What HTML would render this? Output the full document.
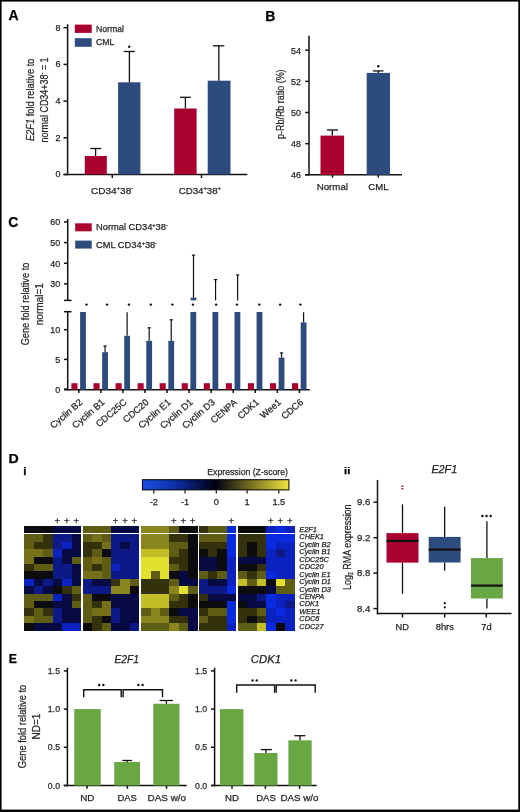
<!DOCTYPE html>
<html><head><meta charset="utf-8"><title>Figure</title>
<style>
html,body{margin:0;padding:0;background:#fff;}
body{width:520px;height:812px;overflow:hidden;}
svg{display:block;font-family:"Liberation Sans", sans-serif;will-change:transform;}

</style></head><body>
<svg width="520" height="812" viewBox="0 0 520 812">
<rect x="0" y="0" width="520" height="812" fill="#fff"/>
<rect x="0.00" y="0.00" width="520.00" height="1.60" fill="#000"/>
<rect x="0.00" y="0.00" width="1.60" height="812.00" fill="#000"/>
<rect x="518.30" y="0.00" width="1.70" height="812.00" fill="#000"/>
<rect x="0.00" y="809.60" width="520.00" height="2.40" fill="#000"/>
<text x="8.60" y="20.40" font-size="14" text-anchor="start" fill="#000" stroke="#000" stroke-width="0.25" font-weight="bold" font-style="normal">A</text>
<text x="265.30" y="20.50" font-size="14" text-anchor="start" fill="#000" stroke="#000" stroke-width="0.25" font-weight="bold" font-style="normal">B</text>
<text x="8.30" y="226.70" font-size="14" text-anchor="start" fill="#000" stroke="#000" stroke-width="0.25" font-weight="bold" font-style="normal">C</text>
<text x="8.50" y="463.00" font-size="13.5" text-anchor="start" fill="#000" stroke="#000" stroke-width="0.25" font-weight="bold" font-style="normal" textLength="10.2" lengthAdjust="spacingAndGlyphs">D</text>
<text x="23.20" y="474.60" font-size="11.5" text-anchor="start" fill="#000" stroke="#000" stroke-width="0.25" font-weight="bold" font-style="normal">i</text>
<text x="344.00" y="474.20" font-size="9.5" text-anchor="start" fill="#000" stroke="#000" stroke-width="0.25" font-weight="bold" font-style="normal" textLength="6.3" lengthAdjust="spacingAndGlyphs">ii</text>
<text x="8.80" y="662.60" font-size="12.3" text-anchor="start" fill="#000" stroke="#000" stroke-width="0.25" font-weight="bold" font-style="normal">E</text>
<line x1="67.60" y1="24.20" x2="67.60" y2="175.25" stroke="#111111" stroke-width="1.5"/>
<line x1="63.50" y1="174.50" x2="67.60" y2="174.50" stroke="#111111" stroke-width="1.5"/>
<text x="60.50" y="177.40" font-size="9" text-anchor="end" fill="#262626" stroke="#262626" stroke-width="0.25" font-weight="normal" font-style="normal" textLength="5.01" lengthAdjust="spacingAndGlyphs">0</text>
<line x1="63.50" y1="137.80" x2="67.60" y2="137.80" stroke="#111111" stroke-width="1.5"/>
<text x="60.50" y="140.70" font-size="9" text-anchor="end" fill="#262626" stroke="#262626" stroke-width="0.25" font-weight="normal" font-style="normal" textLength="5.01" lengthAdjust="spacingAndGlyphs">2</text>
<line x1="63.50" y1="101.10" x2="67.60" y2="101.10" stroke="#111111" stroke-width="1.5"/>
<text x="60.50" y="104.00" font-size="9" text-anchor="end" fill="#262626" stroke="#262626" stroke-width="0.25" font-weight="normal" font-style="normal" textLength="5.01" lengthAdjust="spacingAndGlyphs">4</text>
<line x1="63.50" y1="64.40" x2="67.60" y2="64.40" stroke="#111111" stroke-width="1.5"/>
<text x="60.50" y="67.30" font-size="9" text-anchor="end" fill="#262626" stroke="#262626" stroke-width="0.25" font-weight="normal" font-style="normal" textLength="5.01" lengthAdjust="spacingAndGlyphs">6</text>
<line x1="63.50" y1="27.70" x2="67.60" y2="27.70" stroke="#111111" stroke-width="1.5"/>
<text x="60.50" y="30.60" font-size="9" text-anchor="end" fill="#262626" stroke="#262626" stroke-width="0.25" font-weight="normal" font-style="normal" textLength="5.01" lengthAdjust="spacingAndGlyphs">8</text>
<line x1="63.50" y1="174.50" x2="247.40" y2="174.50" stroke="#111111" stroke-width="1.5"/>
<line x1="112.30" y1="174.50" x2="112.30" y2="178.00" stroke="#111111" stroke-width="1.5"/>
<line x1="201.50" y1="174.50" x2="201.50" y2="178.00" stroke="#111111" stroke-width="1.5"/>
<rect x="84.80" y="156.00" width="22.00" height="18.50" fill="#aa0030"/>
<line x1="95.60" y1="156.00" x2="95.60" y2="148.50" stroke="#111111" stroke-width="1.3"/>
<line x1="90.40" y1="148.50" x2="101.30" y2="148.50" stroke="#111111" stroke-width="1.3"/>
<rect x="118.10" y="82.30" width="22.30" height="92.20" fill="#2d4b7c"/>
<line x1="129.40" y1="82.30" x2="129.40" y2="51.50" stroke="#111111" stroke-width="1.3"/>
<line x1="123.70" y1="51.50" x2="134.80" y2="51.50" stroke="#111111" stroke-width="1.3"/>
<rect x="174.20" y="108.50" width="22.40" height="66.00" fill="#aa0030"/>
<line x1="185.40" y1="108.50" x2="185.40" y2="97.30" stroke="#111111" stroke-width="1.3"/>
<line x1="180.00" y1="97.30" x2="190.80" y2="97.30" stroke="#111111" stroke-width="1.3"/>
<rect x="207.70" y="80.70" width="22.80" height="93.80" fill="#2d4b7c"/>
<line x1="218.80" y1="80.70" x2="218.80" y2="45.80" stroke="#111111" stroke-width="1.3"/>
<line x1="213.00" y1="45.80" x2="224.30" y2="45.80" stroke="#111111" stroke-width="1.3"/>
<circle cx="129.20" cy="46.70" r="1.2" fill="#111111"/>
<rect x="74.80" y="24.60" width="16.90" height="8.30" fill="#aa0030"/>
<rect x="74.80" y="38.20" width="16.90" height="8.60" fill="#2d4b7c"/>
<text x="96.00" y="31.90" font-size="9.3" text-anchor="start" fill="#262626" stroke="#262626" stroke-width="0.25" font-weight="normal" font-style="normal" textLength="28" lengthAdjust="spacingAndGlyphs">Normal</text>
<text x="96.00" y="45.10" font-size="9.3" text-anchor="start" fill="#262626" stroke="#262626" stroke-width="0.25" font-weight="normal" font-style="normal" textLength="18.4" lengthAdjust="spacingAndGlyphs">CML</text>
<text x="91.00" y="193.80" font-size="9.5" fill="#262626" stroke="#262626" stroke-width="0.25" textLength="42.3" lengthAdjust="spacingAndGlyphs">CD34<tspan font-size="5.70" dy="-3.4">+</tspan><tspan dy="3.4">38</tspan><tspan font-size="5.70" dy="-3.4">-</tspan></text>
<text x="178.70" y="193.70" font-size="9.5" fill="#262626" stroke="#262626" stroke-width="0.25" textLength="42.3" lengthAdjust="spacingAndGlyphs">CD34<tspan font-size="5.70" dy="-3.4">+</tspan><tspan dy="3.4">38</tspan><tspan font-size="5.70" dy="-3.4">+</tspan></text>
<g transform="translate(34.3,99.8) rotate(-90)"><text x="0" y="0" font-size="11.8" fill="#262626" stroke="#262626" stroke-width="0.25" text-anchor="middle" textLength="82.6" lengthAdjust="spacingAndGlyphs"><tspan font-style="italic">E2F1</tspan> fold relative to</text></g>
<g transform="translate(48.0,99.9) rotate(-90)"><text x="0" y="0" font-size="11.8" fill="#262626" stroke="#262626" stroke-width="0.25" text-anchor="middle" textLength="85" lengthAdjust="spacingAndGlyphs">normal CD34+38<tspan font-size="7.5" dy="-4.5">-</tspan><tspan dy="4.5"> = 1</tspan></text></g>
<line x1="309.00" y1="35.80" x2="309.00" y2="175.55" stroke="#111111" stroke-width="1.5"/>
<line x1="305.20" y1="174.80" x2="309.00" y2="174.80" stroke="#111111" stroke-width="1.5"/>
<text x="301.00" y="178.20" font-size="9.6" text-anchor="end" fill="#262626" stroke="#262626" stroke-width="0.25" font-weight="normal" font-style="normal" textLength="9.93" lengthAdjust="spacingAndGlyphs">46</text>
<line x1="305.20" y1="143.65" x2="309.00" y2="143.65" stroke="#111111" stroke-width="1.5"/>
<text x="301.00" y="147.05" font-size="9.6" text-anchor="end" fill="#262626" stroke="#262626" stroke-width="0.25" font-weight="normal" font-style="normal" textLength="9.93" lengthAdjust="spacingAndGlyphs">48</text>
<line x1="305.20" y1="112.50" x2="309.00" y2="112.50" stroke="#111111" stroke-width="1.5"/>
<text x="301.00" y="115.90" font-size="9.6" text-anchor="end" fill="#262626" stroke="#262626" stroke-width="0.25" font-weight="normal" font-style="normal" textLength="9.93" lengthAdjust="spacingAndGlyphs">50</text>
<line x1="305.20" y1="81.35" x2="309.00" y2="81.35" stroke="#111111" stroke-width="1.5"/>
<text x="301.00" y="84.75" font-size="9.6" text-anchor="end" fill="#262626" stroke="#262626" stroke-width="0.25" font-weight="normal" font-style="normal" textLength="9.93" lengthAdjust="spacingAndGlyphs">52</text>
<line x1="305.20" y1="50.20" x2="309.00" y2="50.20" stroke="#111111" stroke-width="1.5"/>
<text x="301.00" y="53.60" font-size="9.6" text-anchor="end" fill="#262626" stroke="#262626" stroke-width="0.25" font-weight="normal" font-style="normal" textLength="9.93" lengthAdjust="spacingAndGlyphs">54</text>
<line x1="305.20" y1="174.80" x2="402.00" y2="174.80" stroke="#111111" stroke-width="1.5"/>
<line x1="332.50" y1="174.80" x2="332.50" y2="177.60" stroke="#111111" stroke-width="1.5"/>
<line x1="378.30" y1="174.80" x2="378.30" y2="177.60" stroke="#111111" stroke-width="1.5"/>
<rect x="320.50" y="135.60" width="23.60" height="39.20" fill="#aa0030"/>
<line x1="332.30" y1="135.60" x2="332.30" y2="130.00" stroke="#111111" stroke-width="1.3"/>
<line x1="327.00" y1="130.00" x2="338.00" y2="130.00" stroke="#111111" stroke-width="1.3"/>
<rect x="366.70" y="72.90" width="23.30" height="101.90" fill="#2d4b7c"/>
<line x1="378.30" y1="72.90" x2="378.30" y2="70.90" stroke="#111111" stroke-width="1.3"/>
<line x1="372.90" y1="70.90" x2="383.40" y2="70.90" stroke="#111111" stroke-width="1.3"/>
<circle cx="378.30" cy="66.20" r="1.2" fill="#111111"/>
<text x="316.70" y="189.60" font-size="9.3" text-anchor="start" fill="#262626" stroke="#262626" stroke-width="0.25" font-weight="normal" font-style="normal" textLength="31.3" lengthAdjust="spacingAndGlyphs">Normal</text>
<text x="368.30" y="189.60" font-size="9.3" text-anchor="start" fill="#262626" stroke="#262626" stroke-width="0.25" font-weight="normal" font-style="normal" textLength="20.2" lengthAdjust="spacingAndGlyphs">CML</text>
<g transform="translate(284,104.2) rotate(-90)"><text x="0" y="0" font-size="11.8" fill="#262626" stroke="#262626" stroke-width="0.25" text-anchor="middle" textLength="69.6" lengthAdjust="spacingAndGlyphs">p-Rb/Rb ratio (%)</text></g>
<line x1="67.70" y1="219.00" x2="67.70" y2="300.40" stroke="#111111" stroke-width="1.5"/>
<line x1="64.00" y1="300.40" x2="71.50" y2="300.40" stroke="#111111" stroke-width="1.5"/>
<line x1="67.70" y1="311.70" x2="67.70" y2="390.40" stroke="#111111" stroke-width="1.5"/>
<line x1="64.00" y1="311.70" x2="71.50" y2="311.70" stroke="#111111" stroke-width="1.5"/>
<line x1="64.00" y1="221.90" x2="67.70" y2="221.90" stroke="#111111" stroke-width="1.5"/>
<text x="60.20" y="225.30" font-size="9.6" text-anchor="end" fill="#262626" stroke="#262626" stroke-width="0.25" font-weight="normal" font-style="normal" textLength="9.93" lengthAdjust="spacingAndGlyphs">60</text>
<line x1="64.00" y1="242.60" x2="67.70" y2="242.60" stroke="#111111" stroke-width="1.5"/>
<text x="60.20" y="246.00" font-size="9.6" text-anchor="end" fill="#262626" stroke="#262626" stroke-width="0.25" font-weight="normal" font-style="normal" textLength="9.93" lengthAdjust="spacingAndGlyphs">50</text>
<line x1="64.00" y1="263.30" x2="67.70" y2="263.30" stroke="#111111" stroke-width="1.5"/>
<text x="60.20" y="266.70" font-size="9.6" text-anchor="end" fill="#262626" stroke="#262626" stroke-width="0.25" font-weight="normal" font-style="normal" textLength="9.93" lengthAdjust="spacingAndGlyphs">40</text>
<line x1="64.00" y1="283.90" x2="67.70" y2="283.90" stroke="#111111" stroke-width="1.5"/>
<text x="60.20" y="287.30" font-size="9.6" text-anchor="end" fill="#262626" stroke="#262626" stroke-width="0.25" font-weight="normal" font-style="normal" textLength="9.93" lengthAdjust="spacingAndGlyphs">30</text>
<line x1="64.00" y1="329.70" x2="67.70" y2="329.70" stroke="#111111" stroke-width="1.5"/>
<text x="60.20" y="333.10" font-size="9.6" text-anchor="end" fill="#262626" stroke="#262626" stroke-width="0.25" font-weight="normal" font-style="normal" textLength="9.93" lengthAdjust="spacingAndGlyphs">10</text>
<line x1="64.00" y1="359.40" x2="67.70" y2="359.40" stroke="#111111" stroke-width="1.5"/>
<text x="60.20" y="362.80" font-size="9.6" text-anchor="end" fill="#262626" stroke="#262626" stroke-width="0.25" font-weight="normal" font-style="normal" textLength="4.97" lengthAdjust="spacingAndGlyphs">5</text>
<line x1="64.00" y1="389.10" x2="67.70" y2="389.10" stroke="#111111" stroke-width="1.5"/>
<text x="60.20" y="392.50" font-size="9.6" text-anchor="end" fill="#262626" stroke="#262626" stroke-width="0.25" font-weight="normal" font-style="normal" textLength="4.97" lengthAdjust="spacingAndGlyphs">0</text>
<line x1="64.00" y1="389.70" x2="309.80" y2="389.70" stroke="#111111" stroke-width="1.5"/>
<rect x="71.40" y="383.20" width="6.10" height="6.50" fill="#aa0030"/>
<rect x="80.10" y="312.00" width="5.80" height="77.70" fill="#2d4b7c"/>
<line x1="78.80" y1="389.70" x2="78.80" y2="393.00" stroke="#111111" stroke-width="1.5"/>
<circle cx="86.50" cy="304.60" r="1.2" fill="#111111"/>
<g transform="translate(83.20,403.2) rotate(-41)"><text x="0" y="0" font-size="9.3" fill="#262626" stroke="#262626" stroke-width="0.25" text-anchor="end">Cyclin B2</text></g>
<rect x="93.46" y="383.20" width="6.10" height="6.50" fill="#aa0030"/>
<rect x="102.16" y="352.20" width="5.80" height="37.50" fill="#2d4b7c"/>
<line x1="105.06" y1="352.20" x2="105.06" y2="346.00" stroke="#111111" stroke-width="1.2"/>
<line x1="103.46" y1="346.00" x2="106.66" y2="346.00" stroke="#111111" stroke-width="1.2"/>
<line x1="100.86" y1="389.70" x2="100.86" y2="393.00" stroke="#111111" stroke-width="1.5"/>
<circle cx="107.00" cy="304.60" r="1.2" fill="#111111"/>
<g transform="translate(105.26,403.2) rotate(-41)"><text x="0" y="0" font-size="9.3" fill="#262626" stroke="#262626" stroke-width="0.25" text-anchor="end">Cyclin B1</text></g>
<rect x="115.52" y="383.20" width="6.10" height="6.50" fill="#aa0030"/>
<rect x="124.22" y="335.80" width="5.80" height="53.90" fill="#2d4b7c"/>
<line x1="127.12" y1="335.80" x2="127.12" y2="312.20" stroke="#111111" stroke-width="1.2"/>
<line x1="122.92" y1="389.70" x2="122.92" y2="393.00" stroke="#111111" stroke-width="1.5"/>
<circle cx="129.00" cy="304.60" r="1.2" fill="#111111"/>
<g transform="translate(127.32,403.2) rotate(-41)"><text x="0" y="0" font-size="9.3" fill="#262626" stroke="#262626" stroke-width="0.25" text-anchor="end">CDC25C</text></g>
<rect x="137.58" y="383.20" width="6.10" height="6.50" fill="#aa0030"/>
<rect x="146.28" y="340.80" width="5.80" height="48.90" fill="#2d4b7c"/>
<line x1="149.18" y1="340.80" x2="149.18" y2="327.80" stroke="#111111" stroke-width="1.2"/>
<line x1="147.58" y1="327.80" x2="150.78" y2="327.80" stroke="#111111" stroke-width="1.2"/>
<line x1="144.98" y1="389.70" x2="144.98" y2="393.00" stroke="#111111" stroke-width="1.5"/>
<circle cx="150.90" cy="304.60" r="1.2" fill="#111111"/>
<g transform="translate(149.38,403.2) rotate(-41)"><text x="0" y="0" font-size="9.3" fill="#262626" stroke="#262626" stroke-width="0.25" text-anchor="end">CDC20</text></g>
<rect x="159.64" y="383.20" width="6.10" height="6.50" fill="#aa0030"/>
<rect x="168.34" y="340.80" width="5.80" height="48.90" fill="#2d4b7c"/>
<line x1="171.24" y1="340.80" x2="171.24" y2="319.80" stroke="#111111" stroke-width="1.2"/>
<line x1="169.64" y1="319.80" x2="172.84" y2="319.80" stroke="#111111" stroke-width="1.2"/>
<line x1="167.04" y1="389.70" x2="167.04" y2="393.00" stroke="#111111" stroke-width="1.5"/>
<circle cx="172.40" cy="304.60" r="1.2" fill="#111111"/>
<g transform="translate(171.44,403.2) rotate(-41)"><text x="0" y="0" font-size="9.3" fill="#262626" stroke="#262626" stroke-width="0.25" text-anchor="end">Cyclin E1</text></g>
<rect x="181.70" y="383.20" width="6.10" height="6.50" fill="#aa0030"/>
<rect x="190.40" y="312.00" width="5.80" height="77.70" fill="#2d4b7c"/>
<line x1="189.10" y1="389.70" x2="189.10" y2="393.00" stroke="#111111" stroke-width="1.5"/>
<circle cx="193.00" cy="304.60" r="1.2" fill="#111111"/>
<g transform="translate(193.50,403.2) rotate(-41)"><text x="0" y="0" font-size="9.3" fill="#262626" stroke="#262626" stroke-width="0.25" text-anchor="end">Cyclin D1</text></g>
<rect x="203.76" y="383.20" width="6.10" height="6.50" fill="#aa0030"/>
<rect x="212.46" y="312.00" width="5.80" height="77.70" fill="#2d4b7c"/>
<line x1="211.16" y1="389.70" x2="211.16" y2="393.00" stroke="#111111" stroke-width="1.5"/>
<circle cx="216.10" cy="304.60" r="1.2" fill="#111111"/>
<g transform="translate(215.56,403.2) rotate(-41)"><text x="0" y="0" font-size="9.3" fill="#262626" stroke="#262626" stroke-width="0.25" text-anchor="end">Cyclin D3</text></g>
<rect x="225.82" y="383.20" width="6.10" height="6.50" fill="#aa0030"/>
<rect x="234.52" y="312.00" width="5.80" height="77.70" fill="#2d4b7c"/>
<line x1="233.22" y1="389.70" x2="233.22" y2="393.00" stroke="#111111" stroke-width="1.5"/>
<circle cx="236.90" cy="304.60" r="1.2" fill="#111111"/>
<g transform="translate(237.62,403.2) rotate(-41)"><text x="0" y="0" font-size="9.3" fill="#262626" stroke="#262626" stroke-width="0.25" text-anchor="end">CENPA</text></g>
<rect x="247.88" y="383.20" width="6.10" height="6.50" fill="#aa0030"/>
<rect x="256.58" y="312.00" width="5.80" height="77.70" fill="#2d4b7c"/>
<line x1="255.28" y1="389.70" x2="255.28" y2="393.00" stroke="#111111" stroke-width="1.5"/>
<circle cx="259.30" cy="304.60" r="1.2" fill="#111111"/>
<g transform="translate(259.68,403.2) rotate(-41)"><text x="0" y="0" font-size="9.3" fill="#262626" stroke="#262626" stroke-width="0.25" text-anchor="end">CDK1</text></g>
<rect x="269.94" y="383.20" width="6.10" height="6.50" fill="#aa0030"/>
<rect x="278.64" y="357.60" width="5.80" height="32.10" fill="#2d4b7c"/>
<line x1="281.54" y1="357.60" x2="281.54" y2="352.90" stroke="#111111" stroke-width="1.2"/>
<line x1="279.94" y1="352.90" x2="283.14" y2="352.90" stroke="#111111" stroke-width="1.2"/>
<line x1="277.34" y1="389.70" x2="277.34" y2="393.00" stroke="#111111" stroke-width="1.5"/>
<circle cx="280.10" cy="304.60" r="1.2" fill="#111111"/>
<g transform="translate(281.74,403.2) rotate(-41)"><text x="0" y="0" font-size="9.3" fill="#262626" stroke="#262626" stroke-width="0.25" text-anchor="end">Wee1</text></g>
<rect x="292.00" y="383.20" width="6.10" height="6.50" fill="#aa0030"/>
<rect x="300.70" y="322.40" width="5.80" height="67.30" fill="#2d4b7c"/>
<line x1="303.60" y1="322.40" x2="303.60" y2="312.20" stroke="#111111" stroke-width="1.2"/>
<line x1="299.40" y1="389.70" x2="299.40" y2="393.00" stroke="#111111" stroke-width="1.5"/>
<circle cx="300.40" cy="304.60" r="1.2" fill="#111111"/>
<g transform="translate(303.80,403.2) rotate(-41)"><text x="0" y="0" font-size="9.3" fill="#262626" stroke="#262626" stroke-width="0.25" text-anchor="end">CDC6</text></g>
<rect x="190.60" y="297.60" width="5.80" height="2.80" fill="#2d4b7c"/>
<line x1="193.50" y1="297.60" x2="193.50" y2="255.20" stroke="#111111" stroke-width="1.2"/>
<line x1="191.90" y1="255.20" x2="195.10" y2="255.20" stroke="#111111" stroke-width="1.2"/>
<line x1="215.56" y1="300.40" x2="215.56" y2="279.60" stroke="#111111" stroke-width="1.2"/>
<line x1="213.96" y1="279.60" x2="217.16" y2="279.60" stroke="#111111" stroke-width="1.2"/>
<line x1="237.62" y1="300.40" x2="237.62" y2="275.00" stroke="#111111" stroke-width="1.2"/>
<line x1="236.02" y1="275.00" x2="239.22" y2="275.00" stroke="#111111" stroke-width="1.2"/>
<rect x="75.20" y="223.30" width="16.50" height="8.00" fill="#aa0030"/>
<rect x="75.20" y="240.60" width="16.50" height="8.00" fill="#2d4b7c"/>
<text x="96" y="230.2" font-size="9.3" fill="#262626" stroke="#262626" stroke-width="0.25">Normal CD34<tspan font-size="5.6" dy="-3.4">+</tspan><tspan dy="3.4">38</tspan><tspan font-size="5.6" dy="-3.4">-</tspan></text>
<text x="96" y="247.9" font-size="9.3" fill="#262626" stroke="#262626" stroke-width="0.25">CML CD34<tspan font-size="5.6" dy="-3.4">+</tspan><tspan dy="3.4">38</tspan><tspan font-size="5.6" dy="-3.4">-</tspan></text>
<g transform="translate(29,304) rotate(-90)"><text x="0" y="0" font-size="11.8" fill="#262626" stroke="#262626" stroke-width="0.25" text-anchor="middle" textLength="82.7" lengthAdjust="spacingAndGlyphs">Gene fold relative to</text></g>
<g transform="translate(43.2,304.2) rotate(-90)"><text x="0" y="0" font-size="11.8" fill="#262626" stroke="#262626" stroke-width="0.25" text-anchor="middle" textLength="42" lengthAdjust="spacingAndGlyphs">normal=1</text></g>
<defs><linearGradient id="cb" x1="0" x2="1" y1="0" y2="0"><stop offset="0" stop-color="#1a50e6"/><stop offset="0.25" stop-color="#0c2a9a"/><stop offset="0.5" stop-color="#000010"/><stop offset="0.75" stop-color="#7a7420"/><stop offset="1" stop-color="#f0e640"/></linearGradient></defs>
<rect x="142.4" y="479.7" width="146.5" height="10.2" fill="url(#cb)" stroke="#000" stroke-width="1"/>
<line x1="153.80" y1="490.20" x2="153.80" y2="493.50" stroke="#111111" stroke-width="1.2"/>
<text x="153.80" y="505.40" font-size="9.2" text-anchor="middle" fill="#262626" stroke="#262626" stroke-width="0.25" font-weight="normal" font-style="normal" textLength="8.18" lengthAdjust="spacingAndGlyphs">-2</text>
<line x1="185.00" y1="490.20" x2="185.00" y2="493.50" stroke="#111111" stroke-width="1.2"/>
<text x="185.00" y="505.40" font-size="9.2" text-anchor="middle" fill="#262626" stroke="#262626" stroke-width="0.25" font-weight="normal" font-style="normal" textLength="8.18" lengthAdjust="spacingAndGlyphs">-1</text>
<line x1="216.30" y1="490.20" x2="216.30" y2="493.50" stroke="#111111" stroke-width="1.2"/>
<text x="216.30" y="505.40" font-size="9.2" text-anchor="middle" fill="#262626" stroke="#262626" stroke-width="0.25" font-weight="normal" font-style="normal" textLength="5.12" lengthAdjust="spacingAndGlyphs">0</text>
<line x1="247.10" y1="490.20" x2="247.10" y2="493.50" stroke="#111111" stroke-width="1.2"/>
<text x="247.10" y="505.40" font-size="9.2" text-anchor="middle" fill="#262626" stroke="#262626" stroke-width="0.25" font-weight="normal" font-style="normal" textLength="5.12" lengthAdjust="spacingAndGlyphs">1</text>
<line x1="278.80" y1="490.20" x2="278.80" y2="493.50" stroke="#111111" stroke-width="1.2"/>
<text x="278.80" y="505.40" font-size="9.2" text-anchor="middle" fill="#262626" stroke="#262626" stroke-width="0.25" font-weight="normal" font-style="normal" textLength="12.79" lengthAdjust="spacingAndGlyphs">1.5</text>
<text x="207.30" y="475.00" font-size="9.3" text-anchor="start" fill="#262626" stroke="#262626" stroke-width="0.25" font-weight="normal" font-style="normal" textLength="80.7" lengthAdjust="spacingAndGlyphs">Expression (Z-score)</text>
<rect x="24.00" y="525.80" width="9.80" height="7.10" fill="rgb(12, 12, 14)" shape-rendering="crispEdges"/>
<rect x="33.50" y="525.80" width="9.80" height="7.10" fill="rgb(12, 12, 14)" shape-rendering="crispEdges"/>
<rect x="43.00" y="525.80" width="9.80" height="7.10" fill="rgb(12, 12, 14)" shape-rendering="crispEdges"/>
<rect x="52.50" y="525.80" width="9.80" height="7.10" fill="rgb(8, 10, 68)" shape-rendering="crispEdges"/>
<rect x="62.00" y="525.80" width="9.80" height="7.10" fill="rgb(8, 10, 68)" shape-rendering="crispEdges"/>
<rect x="71.50" y="525.80" width="9.80" height="7.10" fill="rgb(8, 10, 68)" shape-rendering="crispEdges"/>
<rect x="24.00" y="534.40" width="9.80" height="7.69" fill="rgb(95, 92, 20)" shape-rendering="crispEdges"/>
<rect x="33.50" y="534.40" width="9.80" height="7.69" fill="rgb(95, 92, 20)" shape-rendering="crispEdges"/>
<rect x="43.00" y="534.40" width="9.80" height="7.69" fill="rgb(52, 50, 12)" shape-rendering="crispEdges"/>
<rect x="52.50" y="534.40" width="9.80" height="7.69" fill="rgb(12, 25, 135)" shape-rendering="crispEdges"/>
<rect x="62.00" y="534.40" width="9.80" height="7.69" fill="rgb(12, 25, 135)" shape-rendering="crispEdges"/>
<rect x="71.50" y="534.40" width="9.80" height="7.69" fill="rgb(8, 10, 68)" shape-rendering="crispEdges"/>
<rect x="24.00" y="541.79" width="9.80" height="7.69" fill="rgb(95, 92, 20)" shape-rendering="crispEdges"/>
<rect x="33.50" y="541.79" width="9.80" height="7.69" fill="rgb(52, 50, 12)" shape-rendering="crispEdges"/>
<rect x="43.00" y="541.79" width="9.80" height="7.69" fill="rgb(52, 50, 12)" shape-rendering="crispEdges"/>
<rect x="52.50" y="541.79" width="9.80" height="7.69" fill="rgb(12, 25, 135)" shape-rendering="crispEdges"/>
<rect x="62.00" y="541.79" width="9.80" height="7.69" fill="rgb(12, 34, 192)" shape-rendering="crispEdges"/>
<rect x="71.50" y="541.79" width="9.80" height="7.69" fill="rgb(8, 10, 68)" shape-rendering="crispEdges"/>
<rect x="24.00" y="549.18" width="9.80" height="7.69" fill="rgb(118, 113, 24)" shape-rendering="crispEdges"/>
<rect x="33.50" y="549.18" width="9.80" height="7.69" fill="rgb(118, 113, 24)" shape-rendering="crispEdges"/>
<rect x="43.00" y="549.18" width="9.80" height="7.69" fill="rgb(95, 92, 20)" shape-rendering="crispEdges"/>
<rect x="52.50" y="549.18" width="9.80" height="7.69" fill="rgb(12, 34, 192)" shape-rendering="crispEdges"/>
<rect x="62.00" y="549.18" width="9.80" height="7.69" fill="rgb(8, 10, 68)" shape-rendering="crispEdges"/>
<rect x="71.50" y="549.18" width="9.80" height="7.69" fill="rgb(8, 10, 68)" shape-rendering="crispEdges"/>
<rect x="24.00" y="556.58" width="9.80" height="7.69" fill="rgb(118, 113, 24)" shape-rendering="crispEdges"/>
<rect x="33.50" y="556.58" width="9.80" height="7.69" fill="rgb(12, 12, 14)" shape-rendering="crispEdges"/>
<rect x="43.00" y="556.58" width="9.80" height="7.69" fill="rgb(12, 12, 14)" shape-rendering="crispEdges"/>
<rect x="52.50" y="556.58" width="9.80" height="7.69" fill="rgb(12, 25, 135)" shape-rendering="crispEdges"/>
<rect x="62.00" y="556.58" width="9.80" height="7.69" fill="rgb(8, 10, 68)" shape-rendering="crispEdges"/>
<rect x="71.50" y="556.58" width="9.80" height="7.69" fill="rgb(95, 92, 20)" shape-rendering="crispEdges"/>
<rect x="24.00" y="563.97" width="9.80" height="7.69" fill="rgb(52, 50, 12)" shape-rendering="crispEdges"/>
<rect x="33.50" y="563.97" width="9.80" height="7.69" fill="rgb(95, 92, 20)" shape-rendering="crispEdges"/>
<rect x="43.00" y="563.97" width="9.80" height="7.69" fill="rgb(95, 92, 20)" shape-rendering="crispEdges"/>
<rect x="52.50" y="563.97" width="9.80" height="7.69" fill="rgb(12, 25, 135)" shape-rendering="crispEdges"/>
<rect x="62.00" y="563.97" width="9.80" height="7.69" fill="rgb(12, 25, 135)" shape-rendering="crispEdges"/>
<rect x="71.50" y="563.97" width="9.80" height="7.69" fill="rgb(8, 10, 68)" shape-rendering="crispEdges"/>
<rect x="24.00" y="571.36" width="9.80" height="7.69" fill="rgb(12, 12, 14)" shape-rendering="crispEdges"/>
<rect x="33.50" y="571.36" width="9.80" height="7.69" fill="rgb(12, 12, 14)" shape-rendering="crispEdges"/>
<rect x="43.00" y="571.36" width="9.80" height="7.69" fill="rgb(12, 12, 14)" shape-rendering="crispEdges"/>
<rect x="52.50" y="571.36" width="9.80" height="7.69" fill="rgb(12, 25, 135)" shape-rendering="crispEdges"/>
<rect x="62.00" y="571.36" width="9.80" height="7.69" fill="rgb(12, 25, 135)" shape-rendering="crispEdges"/>
<rect x="71.50" y="571.36" width="9.80" height="7.69" fill="rgb(8, 10, 68)" shape-rendering="crispEdges"/>
<rect x="24.00" y="578.75" width="9.80" height="7.69" fill="rgb(12, 34, 192)" shape-rendering="crispEdges"/>
<rect x="33.50" y="578.75" width="9.80" height="7.69" fill="rgb(8, 10, 68)" shape-rendering="crispEdges"/>
<rect x="43.00" y="578.75" width="9.80" height="7.69" fill="rgb(12, 25, 135)" shape-rendering="crispEdges"/>
<rect x="52.50" y="578.75" width="9.80" height="7.69" fill="rgb(8, 10, 68)" shape-rendering="crispEdges"/>
<rect x="62.00" y="578.75" width="9.80" height="7.69" fill="rgb(12, 34, 192)" shape-rendering="crispEdges"/>
<rect x="71.50" y="578.75" width="9.80" height="7.69" fill="rgb(8, 10, 68)" shape-rendering="crispEdges"/>
<rect x="24.00" y="586.15" width="9.80" height="7.69" fill="rgb(8, 10, 68)" shape-rendering="crispEdges"/>
<rect x="33.50" y="586.15" width="9.80" height="7.69" fill="rgb(12, 25, 135)" shape-rendering="crispEdges"/>
<rect x="43.00" y="586.15" width="9.80" height="7.69" fill="rgb(8, 10, 68)" shape-rendering="crispEdges"/>
<rect x="52.50" y="586.15" width="9.80" height="7.69" fill="rgb(12, 12, 14)" shape-rendering="crispEdges"/>
<rect x="62.00" y="586.15" width="9.80" height="7.69" fill="rgb(52, 50, 12)" shape-rendering="crispEdges"/>
<rect x="71.50" y="586.15" width="9.80" height="7.69" fill="rgb(95, 92, 20)" shape-rendering="crispEdges"/>
<rect x="24.00" y="593.54" width="9.80" height="7.69" fill="rgb(95, 92, 20)" shape-rendering="crispEdges"/>
<rect x="33.50" y="593.54" width="9.80" height="7.69" fill="rgb(95, 92, 20)" shape-rendering="crispEdges"/>
<rect x="43.00" y="593.54" width="9.80" height="7.69" fill="rgb(95, 92, 20)" shape-rendering="crispEdges"/>
<rect x="52.50" y="593.54" width="9.80" height="7.69" fill="rgb(12, 34, 192)" shape-rendering="crispEdges"/>
<rect x="62.00" y="593.54" width="9.80" height="7.69" fill="rgb(8, 10, 68)" shape-rendering="crispEdges"/>
<rect x="71.50" y="593.54" width="9.80" height="7.69" fill="rgb(52, 50, 12)" shape-rendering="crispEdges"/>
<rect x="24.00" y="600.93" width="9.80" height="7.69" fill="rgb(95, 92, 20)" shape-rendering="crispEdges"/>
<rect x="33.50" y="600.93" width="9.80" height="7.69" fill="rgb(12, 12, 14)" shape-rendering="crispEdges"/>
<rect x="43.00" y="600.93" width="9.80" height="7.69" fill="rgb(12, 12, 14)" shape-rendering="crispEdges"/>
<rect x="52.50" y="600.93" width="9.80" height="7.69" fill="rgb(8, 10, 68)" shape-rendering="crispEdges"/>
<rect x="62.00" y="600.93" width="9.80" height="7.69" fill="rgb(8, 10, 68)" shape-rendering="crispEdges"/>
<rect x="71.50" y="600.93" width="9.80" height="7.69" fill="rgb(95, 92, 20)" shape-rendering="crispEdges"/>
<rect x="24.00" y="608.32" width="9.80" height="7.69" fill="rgb(52, 50, 12)" shape-rendering="crispEdges"/>
<rect x="33.50" y="608.32" width="9.80" height="7.69" fill="rgb(95, 92, 20)" shape-rendering="crispEdges"/>
<rect x="43.00" y="608.32" width="9.80" height="7.69" fill="rgb(52, 50, 12)" shape-rendering="crispEdges"/>
<rect x="52.50" y="608.32" width="9.80" height="7.69" fill="rgb(12, 25, 135)" shape-rendering="crispEdges"/>
<rect x="62.00" y="608.32" width="9.80" height="7.69" fill="rgb(8, 10, 68)" shape-rendering="crispEdges"/>
<rect x="71.50" y="608.32" width="9.80" height="7.69" fill="rgb(8, 10, 68)" shape-rendering="crispEdges"/>
<rect x="24.00" y="615.72" width="9.80" height="7.69" fill="rgb(118, 113, 24)" shape-rendering="crispEdges"/>
<rect x="33.50" y="615.72" width="9.80" height="7.69" fill="rgb(95, 92, 20)" shape-rendering="crispEdges"/>
<rect x="43.00" y="615.72" width="9.80" height="7.69" fill="rgb(95, 92, 20)" shape-rendering="crispEdges"/>
<rect x="52.50" y="615.72" width="9.80" height="7.69" fill="rgb(12, 25, 135)" shape-rendering="crispEdges"/>
<rect x="62.00" y="615.72" width="9.80" height="7.69" fill="rgb(8, 10, 68)" shape-rendering="crispEdges"/>
<rect x="71.50" y="615.72" width="9.80" height="7.69" fill="rgb(8, 10, 68)" shape-rendering="crispEdges"/>
<rect x="24.00" y="623.11" width="9.80" height="7.69" fill="rgb(12, 12, 14)" shape-rendering="crispEdges"/>
<rect x="33.50" y="623.11" width="9.80" height="7.69" fill="rgb(8, 10, 68)" shape-rendering="crispEdges"/>
<rect x="43.00" y="623.11" width="9.80" height="7.69" fill="rgb(8, 10, 68)" shape-rendering="crispEdges"/>
<rect x="52.50" y="623.11" width="9.80" height="7.69" fill="rgb(8, 10, 68)" shape-rendering="crispEdges"/>
<rect x="62.00" y="623.11" width="9.80" height="7.69" fill="rgb(12, 34, 192)" shape-rendering="crispEdges"/>
<rect x="71.50" y="623.11" width="9.80" height="7.69" fill="rgb(12, 34, 192)" shape-rendering="crispEdges"/>
<text x="76.25" y="523.90" font-size="9.5" text-anchor="middle" fill="#222" stroke="#222" stroke-width="0.25" font-weight="normal" font-style="normal">+</text>
<text x="66.75" y="523.90" font-size="9.5" text-anchor="middle" fill="#222" stroke="#222" stroke-width="0.25" font-weight="normal" font-style="normal">+</text>
<text x="57.25" y="523.90" font-size="9.5" text-anchor="middle" fill="#222" stroke="#222" stroke-width="0.25" font-weight="normal" font-style="normal">+</text>
<rect x="82.80" y="525.80" width="9.67" height="7.10" fill="rgb(95, 92, 20)" shape-rendering="crispEdges"/>
<rect x="92.17" y="525.80" width="9.67" height="7.10" fill="rgb(95, 92, 20)" shape-rendering="crispEdges"/>
<rect x="101.53" y="525.80" width="9.67" height="7.10" fill="rgb(95, 92, 20)" shape-rendering="crispEdges"/>
<rect x="110.90" y="525.80" width="9.67" height="7.10" fill="rgb(8, 10, 68)" shape-rendering="crispEdges"/>
<rect x="120.27" y="525.80" width="9.67" height="7.10" fill="rgb(8, 10, 68)" shape-rendering="crispEdges"/>
<rect x="129.63" y="525.80" width="9.67" height="7.10" fill="rgb(8, 10, 68)" shape-rendering="crispEdges"/>
<rect x="82.80" y="534.40" width="9.67" height="7.69" fill="rgb(95, 92, 20)" shape-rendering="crispEdges"/>
<rect x="92.17" y="534.40" width="9.67" height="7.69" fill="rgb(118, 113, 24)" shape-rendering="crispEdges"/>
<rect x="101.53" y="534.40" width="9.67" height="7.69" fill="rgb(95, 92, 20)" shape-rendering="crispEdges"/>
<rect x="110.90" y="534.40" width="9.67" height="7.69" fill="rgb(12, 25, 135)" shape-rendering="crispEdges"/>
<rect x="120.27" y="534.40" width="9.67" height="7.69" fill="rgb(12, 25, 135)" shape-rendering="crispEdges"/>
<rect x="129.63" y="534.40" width="9.67" height="7.69" fill="rgb(12, 25, 135)" shape-rendering="crispEdges"/>
<rect x="82.80" y="541.79" width="9.67" height="7.69" fill="rgb(52, 50, 12)" shape-rendering="crispEdges"/>
<rect x="92.17" y="541.79" width="9.67" height="7.69" fill="rgb(52, 50, 12)" shape-rendering="crispEdges"/>
<rect x="101.53" y="541.79" width="9.67" height="7.69" fill="rgb(118, 113, 24)" shape-rendering="crispEdges"/>
<rect x="110.90" y="541.79" width="9.67" height="7.69" fill="rgb(12, 25, 135)" shape-rendering="crispEdges"/>
<rect x="120.27" y="541.79" width="9.67" height="7.69" fill="rgb(8, 10, 68)" shape-rendering="crispEdges"/>
<rect x="129.63" y="541.79" width="9.67" height="7.69" fill="rgb(12, 25, 135)" shape-rendering="crispEdges"/>
<rect x="82.80" y="549.18" width="9.67" height="7.69" fill="rgb(52, 50, 12)" shape-rendering="crispEdges"/>
<rect x="92.17" y="549.18" width="9.67" height="7.69" fill="rgb(95, 92, 20)" shape-rendering="crispEdges"/>
<rect x="101.53" y="549.18" width="9.67" height="7.69" fill="rgb(12, 12, 14)" shape-rendering="crispEdges"/>
<rect x="110.90" y="549.18" width="9.67" height="7.69" fill="rgb(12, 25, 135)" shape-rendering="crispEdges"/>
<rect x="120.27" y="549.18" width="9.67" height="7.69" fill="rgb(12, 25, 135)" shape-rendering="crispEdges"/>
<rect x="129.63" y="549.18" width="9.67" height="7.69" fill="rgb(12, 25, 135)" shape-rendering="crispEdges"/>
<rect x="82.80" y="556.58" width="9.67" height="7.69" fill="rgb(95, 92, 20)" shape-rendering="crispEdges"/>
<rect x="92.17" y="556.58" width="9.67" height="7.69" fill="rgb(118, 113, 24)" shape-rendering="crispEdges"/>
<rect x="101.53" y="556.58" width="9.67" height="7.69" fill="rgb(95, 92, 20)" shape-rendering="crispEdges"/>
<rect x="110.90" y="556.58" width="9.67" height="7.69" fill="rgb(12, 25, 135)" shape-rendering="crispEdges"/>
<rect x="120.27" y="556.58" width="9.67" height="7.69" fill="rgb(12, 25, 135)" shape-rendering="crispEdges"/>
<rect x="129.63" y="556.58" width="9.67" height="7.69" fill="rgb(12, 25, 135)" shape-rendering="crispEdges"/>
<rect x="82.80" y="563.97" width="9.67" height="7.69" fill="rgb(95, 92, 20)" shape-rendering="crispEdges"/>
<rect x="92.17" y="563.97" width="9.67" height="7.69" fill="rgb(52, 50, 12)" shape-rendering="crispEdges"/>
<rect x="101.53" y="563.97" width="9.67" height="7.69" fill="rgb(95, 92, 20)" shape-rendering="crispEdges"/>
<rect x="110.90" y="563.97" width="9.67" height="7.69" fill="rgb(12, 34, 192)" shape-rendering="crispEdges"/>
<rect x="120.27" y="563.97" width="9.67" height="7.69" fill="rgb(12, 25, 135)" shape-rendering="crispEdges"/>
<rect x="129.63" y="563.97" width="9.67" height="7.69" fill="rgb(12, 25, 135)" shape-rendering="crispEdges"/>
<rect x="82.80" y="571.36" width="9.67" height="7.69" fill="rgb(118, 113, 24)" shape-rendering="crispEdges"/>
<rect x="92.17" y="571.36" width="9.67" height="7.69" fill="rgb(118, 113, 24)" shape-rendering="crispEdges"/>
<rect x="101.53" y="571.36" width="9.67" height="7.69" fill="rgb(95, 92, 20)" shape-rendering="crispEdges"/>
<rect x="110.90" y="571.36" width="9.67" height="7.69" fill="rgb(12, 25, 135)" shape-rendering="crispEdges"/>
<rect x="120.27" y="571.36" width="9.67" height="7.69" fill="rgb(12, 25, 135)" shape-rendering="crispEdges"/>
<rect x="129.63" y="571.36" width="9.67" height="7.69" fill="rgb(12, 25, 135)" shape-rendering="crispEdges"/>
<rect x="82.80" y="578.75" width="9.67" height="7.69" fill="rgb(12, 25, 135)" shape-rendering="crispEdges"/>
<rect x="92.17" y="578.75" width="9.67" height="7.69" fill="rgb(8, 10, 68)" shape-rendering="crispEdges"/>
<rect x="101.53" y="578.75" width="9.67" height="7.69" fill="rgb(8, 10, 68)" shape-rendering="crispEdges"/>
<rect x="110.90" y="578.75" width="9.67" height="7.69" fill="rgb(52, 50, 12)" shape-rendering="crispEdges"/>
<rect x="120.27" y="578.75" width="9.67" height="7.69" fill="rgb(138, 133, 28)" shape-rendering="crispEdges"/>
<rect x="129.63" y="578.75" width="9.67" height="7.69" fill="rgb(95, 92, 20)" shape-rendering="crispEdges"/>
<rect x="82.80" y="586.15" width="9.67" height="7.69" fill="rgb(12, 25, 135)" shape-rendering="crispEdges"/>
<rect x="92.17" y="586.15" width="9.67" height="7.69" fill="rgb(12, 25, 135)" shape-rendering="crispEdges"/>
<rect x="101.53" y="586.15" width="9.67" height="7.69" fill="rgb(12, 25, 135)" shape-rendering="crispEdges"/>
<rect x="110.90" y="586.15" width="9.67" height="7.69" fill="rgb(138, 133, 28)" shape-rendering="crispEdges"/>
<rect x="120.27" y="586.15" width="9.67" height="7.69" fill="rgb(138, 133, 28)" shape-rendering="crispEdges"/>
<rect x="129.63" y="586.15" width="9.67" height="7.69" fill="rgb(12, 12, 14)" shape-rendering="crispEdges"/>
<rect x="82.80" y="593.54" width="9.67" height="7.69" fill="rgb(95, 92, 20)" shape-rendering="crispEdges"/>
<rect x="92.17" y="593.54" width="9.67" height="7.69" fill="rgb(12, 12, 14)" shape-rendering="crispEdges"/>
<rect x="101.53" y="593.54" width="9.67" height="7.69" fill="rgb(12, 12, 14)" shape-rendering="crispEdges"/>
<rect x="110.90" y="593.54" width="9.67" height="7.69" fill="rgb(8, 10, 68)" shape-rendering="crispEdges"/>
<rect x="120.27" y="593.54" width="9.67" height="7.69" fill="rgb(8, 10, 68)" shape-rendering="crispEdges"/>
<rect x="129.63" y="593.54" width="9.67" height="7.69" fill="rgb(8, 10, 68)" shape-rendering="crispEdges"/>
<rect x="82.80" y="600.93" width="9.67" height="7.69" fill="rgb(95, 92, 20)" shape-rendering="crispEdges"/>
<rect x="92.17" y="600.93" width="9.67" height="7.69" fill="rgb(52, 50, 12)" shape-rendering="crispEdges"/>
<rect x="101.53" y="600.93" width="9.67" height="7.69" fill="rgb(118, 113, 24)" shape-rendering="crispEdges"/>
<rect x="110.90" y="600.93" width="9.67" height="7.69" fill="rgb(8, 10, 68)" shape-rendering="crispEdges"/>
<rect x="120.27" y="600.93" width="9.67" height="7.69" fill="rgb(8, 10, 68)" shape-rendering="crispEdges"/>
<rect x="129.63" y="600.93" width="9.67" height="7.69" fill="rgb(8, 10, 68)" shape-rendering="crispEdges"/>
<rect x="82.80" y="608.32" width="9.67" height="7.69" fill="rgb(95, 92, 20)" shape-rendering="crispEdges"/>
<rect x="92.17" y="608.32" width="9.67" height="7.69" fill="rgb(118, 113, 24)" shape-rendering="crispEdges"/>
<rect x="101.53" y="608.32" width="9.67" height="7.69" fill="rgb(118, 113, 24)" shape-rendering="crispEdges"/>
<rect x="110.90" y="608.32" width="9.67" height="7.69" fill="rgb(12, 25, 135)" shape-rendering="crispEdges"/>
<rect x="120.27" y="608.32" width="9.67" height="7.69" fill="rgb(8, 10, 68)" shape-rendering="crispEdges"/>
<rect x="129.63" y="608.32" width="9.67" height="7.69" fill="rgb(8, 10, 68)" shape-rendering="crispEdges"/>
<rect x="82.80" y="615.72" width="9.67" height="7.69" fill="rgb(95, 92, 20)" shape-rendering="crispEdges"/>
<rect x="92.17" y="615.72" width="9.67" height="7.69" fill="rgb(52, 50, 12)" shape-rendering="crispEdges"/>
<rect x="101.53" y="615.72" width="9.67" height="7.69" fill="rgb(12, 12, 14)" shape-rendering="crispEdges"/>
<rect x="110.90" y="615.72" width="9.67" height="7.69" fill="rgb(12, 25, 135)" shape-rendering="crispEdges"/>
<rect x="120.27" y="615.72" width="9.67" height="7.69" fill="rgb(8, 10, 68)" shape-rendering="crispEdges"/>
<rect x="129.63" y="615.72" width="9.67" height="7.69" fill="rgb(8, 10, 68)" shape-rendering="crispEdges"/>
<rect x="82.80" y="623.11" width="9.67" height="7.69" fill="rgb(12, 12, 14)" shape-rendering="crispEdges"/>
<rect x="92.17" y="623.11" width="9.67" height="7.69" fill="rgb(52, 50, 12)" shape-rendering="crispEdges"/>
<rect x="101.53" y="623.11" width="9.67" height="7.69" fill="rgb(95, 92, 20)" shape-rendering="crispEdges"/>
<rect x="110.90" y="623.11" width="9.67" height="7.69" fill="rgb(8, 10, 68)" shape-rendering="crispEdges"/>
<rect x="120.27" y="623.11" width="9.67" height="7.69" fill="rgb(8, 10, 68)" shape-rendering="crispEdges"/>
<rect x="129.63" y="623.11" width="9.67" height="7.69" fill="rgb(12, 25, 135)" shape-rendering="crispEdges"/>
<text x="134.32" y="523.90" font-size="9.5" text-anchor="middle" fill="#222" stroke="#222" stroke-width="0.25" font-weight="normal" font-style="normal">+</text>
<text x="124.95" y="523.90" font-size="9.5" text-anchor="middle" fill="#222" stroke="#222" stroke-width="0.25" font-weight="normal" font-style="normal">+</text>
<text x="115.58" y="523.90" font-size="9.5" text-anchor="middle" fill="#222" stroke="#222" stroke-width="0.25" font-weight="normal" font-style="normal">+</text>
<rect x="141.20" y="525.80" width="9.63" height="7.10" fill="rgb(138, 133, 28)" shape-rendering="crispEdges"/>
<rect x="150.53" y="525.80" width="9.63" height="7.10" fill="rgb(138, 133, 28)" shape-rendering="crispEdges"/>
<rect x="159.87" y="525.80" width="9.63" height="7.10" fill="rgb(138, 133, 28)" shape-rendering="crispEdges"/>
<rect x="169.20" y="525.80" width="9.63" height="7.10" fill="rgb(95, 92, 20)" shape-rendering="crispEdges"/>
<rect x="178.53" y="525.80" width="9.63" height="7.10" fill="rgb(12, 12, 14)" shape-rendering="crispEdges"/>
<rect x="187.87" y="525.80" width="9.63" height="7.10" fill="rgb(12, 12, 14)" shape-rendering="crispEdges"/>
<rect x="141.20" y="534.40" width="9.63" height="7.69" fill="rgb(138, 133, 28)" shape-rendering="crispEdges"/>
<rect x="150.53" y="534.40" width="9.63" height="7.69" fill="rgb(138, 133, 28)" shape-rendering="crispEdges"/>
<rect x="159.87" y="534.40" width="9.63" height="7.69" fill="rgb(138, 133, 28)" shape-rendering="crispEdges"/>
<rect x="169.20" y="534.40" width="9.63" height="7.69" fill="rgb(52, 50, 12)" shape-rendering="crispEdges"/>
<rect x="178.53" y="534.40" width="9.63" height="7.69" fill="rgb(52, 50, 12)" shape-rendering="crispEdges"/>
<rect x="187.87" y="534.40" width="9.63" height="7.69" fill="rgb(12, 12, 14)" shape-rendering="crispEdges"/>
<rect x="141.20" y="541.79" width="9.63" height="7.69" fill="rgb(138, 133, 28)" shape-rendering="crispEdges"/>
<rect x="150.53" y="541.79" width="9.63" height="7.69" fill="rgb(138, 133, 28)" shape-rendering="crispEdges"/>
<rect x="159.87" y="541.79" width="9.63" height="7.69" fill="rgb(138, 133, 28)" shape-rendering="crispEdges"/>
<rect x="169.20" y="541.79" width="9.63" height="7.69" fill="rgb(95, 92, 20)" shape-rendering="crispEdges"/>
<rect x="178.53" y="541.79" width="9.63" height="7.69" fill="rgb(95, 92, 20)" shape-rendering="crispEdges"/>
<rect x="187.87" y="541.79" width="9.63" height="7.69" fill="rgb(12, 12, 14)" shape-rendering="crispEdges"/>
<rect x="141.20" y="549.18" width="9.63" height="7.69" fill="rgb(195, 190, 38)" shape-rendering="crispEdges"/>
<rect x="150.53" y="549.18" width="9.63" height="7.69" fill="rgb(195, 190, 38)" shape-rendering="crispEdges"/>
<rect x="159.87" y="549.18" width="9.63" height="7.69" fill="rgb(195, 190, 38)" shape-rendering="crispEdges"/>
<rect x="169.20" y="549.18" width="9.63" height="7.69" fill="rgb(95, 92, 20)" shape-rendering="crispEdges"/>
<rect x="178.53" y="549.18" width="9.63" height="7.69" fill="rgb(52, 50, 12)" shape-rendering="crispEdges"/>
<rect x="187.87" y="549.18" width="9.63" height="7.69" fill="rgb(12, 12, 14)" shape-rendering="crispEdges"/>
<rect x="141.20" y="556.58" width="9.63" height="7.69" fill="rgb(228, 224, 48)" shape-rendering="crispEdges"/>
<rect x="150.53" y="556.58" width="9.63" height="7.69" fill="rgb(228, 224, 48)" shape-rendering="crispEdges"/>
<rect x="159.87" y="556.58" width="9.63" height="7.69" fill="rgb(228, 224, 48)" shape-rendering="crispEdges"/>
<rect x="169.20" y="556.58" width="9.63" height="7.69" fill="rgb(52, 50, 12)" shape-rendering="crispEdges"/>
<rect x="178.53" y="556.58" width="9.63" height="7.69" fill="rgb(52, 50, 12)" shape-rendering="crispEdges"/>
<rect x="187.87" y="556.58" width="9.63" height="7.69" fill="rgb(12, 12, 14)" shape-rendering="crispEdges"/>
<rect x="141.20" y="563.97" width="9.63" height="7.69" fill="rgb(228, 224, 48)" shape-rendering="crispEdges"/>
<rect x="150.53" y="563.97" width="9.63" height="7.69" fill="rgb(228, 224, 48)" shape-rendering="crispEdges"/>
<rect x="159.87" y="563.97" width="9.63" height="7.69" fill="rgb(228, 224, 48)" shape-rendering="crispEdges"/>
<rect x="169.20" y="563.97" width="9.63" height="7.69" fill="rgb(95, 92, 20)" shape-rendering="crispEdges"/>
<rect x="178.53" y="563.97" width="9.63" height="7.69" fill="rgb(52, 50, 12)" shape-rendering="crispEdges"/>
<rect x="187.87" y="563.97" width="9.63" height="7.69" fill="rgb(12, 12, 14)" shape-rendering="crispEdges"/>
<rect x="141.20" y="571.36" width="9.63" height="7.69" fill="rgb(228, 224, 48)" shape-rendering="crispEdges"/>
<rect x="150.53" y="571.36" width="9.63" height="7.69" fill="rgb(95, 92, 20)" shape-rendering="crispEdges"/>
<rect x="159.87" y="571.36" width="9.63" height="7.69" fill="rgb(228, 224, 48)" shape-rendering="crispEdges"/>
<rect x="169.20" y="571.36" width="9.63" height="7.69" fill="rgb(12, 12, 14)" shape-rendering="crispEdges"/>
<rect x="178.53" y="571.36" width="9.63" height="7.69" fill="rgb(8, 10, 68)" shape-rendering="crispEdges"/>
<rect x="187.87" y="571.36" width="9.63" height="7.69" fill="rgb(12, 12, 14)" shape-rendering="crispEdges"/>
<rect x="141.20" y="578.75" width="9.63" height="7.69" fill="rgb(52, 50, 12)" shape-rendering="crispEdges"/>
<rect x="150.53" y="578.75" width="9.63" height="7.69" fill="rgb(52, 50, 12)" shape-rendering="crispEdges"/>
<rect x="159.87" y="578.75" width="9.63" height="7.69" fill="rgb(52, 50, 12)" shape-rendering="crispEdges"/>
<rect x="169.20" y="578.75" width="9.63" height="7.69" fill="rgb(95, 92, 20)" shape-rendering="crispEdges"/>
<rect x="178.53" y="578.75" width="9.63" height="7.69" fill="rgb(8, 10, 68)" shape-rendering="crispEdges"/>
<rect x="187.87" y="578.75" width="9.63" height="7.69" fill="rgb(8, 10, 68)" shape-rendering="crispEdges"/>
<rect x="141.20" y="586.15" width="9.63" height="7.69" fill="rgb(52, 50, 12)" shape-rendering="crispEdges"/>
<rect x="150.53" y="586.15" width="9.63" height="7.69" fill="rgb(52, 50, 12)" shape-rendering="crispEdges"/>
<rect x="159.87" y="586.15" width="9.63" height="7.69" fill="rgb(52, 50, 12)" shape-rendering="crispEdges"/>
<rect x="169.20" y="586.15" width="9.63" height="7.69" fill="rgb(138, 133, 28)" shape-rendering="crispEdges"/>
<rect x="178.53" y="586.15" width="9.63" height="7.69" fill="rgb(228, 224, 48)" shape-rendering="crispEdges"/>
<rect x="187.87" y="586.15" width="9.63" height="7.69" fill="rgb(95, 92, 20)" shape-rendering="crispEdges"/>
<rect x="141.20" y="593.54" width="9.63" height="7.69" fill="rgb(195, 190, 38)" shape-rendering="crispEdges"/>
<rect x="150.53" y="593.54" width="9.63" height="7.69" fill="rgb(195, 190, 38)" shape-rendering="crispEdges"/>
<rect x="159.87" y="593.54" width="9.63" height="7.69" fill="rgb(195, 190, 38)" shape-rendering="crispEdges"/>
<rect x="169.20" y="593.54" width="9.63" height="7.69" fill="rgb(95, 92, 20)" shape-rendering="crispEdges"/>
<rect x="178.53" y="593.54" width="9.63" height="7.69" fill="rgb(52, 50, 12)" shape-rendering="crispEdges"/>
<rect x="187.87" y="593.54" width="9.63" height="7.69" fill="rgb(12, 12, 14)" shape-rendering="crispEdges"/>
<rect x="141.20" y="600.93" width="9.63" height="7.69" fill="rgb(195, 190, 38)" shape-rendering="crispEdges"/>
<rect x="150.53" y="600.93" width="9.63" height="7.69" fill="rgb(195, 190, 38)" shape-rendering="crispEdges"/>
<rect x="159.87" y="600.93" width="9.63" height="7.69" fill="rgb(195, 190, 38)" shape-rendering="crispEdges"/>
<rect x="169.20" y="600.93" width="9.63" height="7.69" fill="rgb(52, 50, 12)" shape-rendering="crispEdges"/>
<rect x="178.53" y="600.93" width="9.63" height="7.69" fill="rgb(52, 50, 12)" shape-rendering="crispEdges"/>
<rect x="187.87" y="600.93" width="9.63" height="7.69" fill="rgb(12, 12, 14)" shape-rendering="crispEdges"/>
<rect x="141.20" y="608.32" width="9.63" height="7.69" fill="rgb(95, 92, 20)" shape-rendering="crispEdges"/>
<rect x="150.53" y="608.32" width="9.63" height="7.69" fill="rgb(138, 133, 28)" shape-rendering="crispEdges"/>
<rect x="159.87" y="608.32" width="9.63" height="7.69" fill="rgb(95, 92, 20)" shape-rendering="crispEdges"/>
<rect x="169.20" y="608.32" width="9.63" height="7.69" fill="rgb(12, 12, 14)" shape-rendering="crispEdges"/>
<rect x="178.53" y="608.32" width="9.63" height="7.69" fill="rgb(8, 10, 68)" shape-rendering="crispEdges"/>
<rect x="187.87" y="608.32" width="9.63" height="7.69" fill="rgb(8, 10, 68)" shape-rendering="crispEdges"/>
<rect x="141.20" y="615.72" width="9.63" height="7.69" fill="rgb(138, 133, 28)" shape-rendering="crispEdges"/>
<rect x="150.53" y="615.72" width="9.63" height="7.69" fill="rgb(138, 133, 28)" shape-rendering="crispEdges"/>
<rect x="159.87" y="615.72" width="9.63" height="7.69" fill="rgb(138, 133, 28)" shape-rendering="crispEdges"/>
<rect x="169.20" y="615.72" width="9.63" height="7.69" fill="rgb(52, 50, 12)" shape-rendering="crispEdges"/>
<rect x="178.53" y="615.72" width="9.63" height="7.69" fill="rgb(52, 50, 12)" shape-rendering="crispEdges"/>
<rect x="187.87" y="615.72" width="9.63" height="7.69" fill="rgb(8, 10, 68)" shape-rendering="crispEdges"/>
<rect x="141.20" y="623.11" width="9.63" height="7.69" fill="rgb(95, 92, 20)" shape-rendering="crispEdges"/>
<rect x="150.53" y="623.11" width="9.63" height="7.69" fill="rgb(95, 92, 20)" shape-rendering="crispEdges"/>
<rect x="159.87" y="623.11" width="9.63" height="7.69" fill="rgb(95, 92, 20)" shape-rendering="crispEdges"/>
<rect x="169.20" y="623.11" width="9.63" height="7.69" fill="rgb(138, 133, 28)" shape-rendering="crispEdges"/>
<rect x="178.53" y="623.11" width="9.63" height="7.69" fill="rgb(95, 92, 20)" shape-rendering="crispEdges"/>
<rect x="187.87" y="623.11" width="9.63" height="7.69" fill="rgb(8, 10, 68)" shape-rendering="crispEdges"/>
<text x="192.53" y="523.90" font-size="9.5" text-anchor="middle" fill="#222" stroke="#222" stroke-width="0.25" font-weight="normal" font-style="normal">+</text>
<text x="183.20" y="523.90" font-size="9.5" text-anchor="middle" fill="#222" stroke="#222" stroke-width="0.25" font-weight="normal" font-style="normal">+</text>
<text x="173.87" y="523.90" font-size="9.5" text-anchor="middle" fill="#222" stroke="#222" stroke-width="0.25" font-weight="normal" font-style="normal">+</text>
<rect x="199.10" y="525.80" width="9.48" height="7.10" fill="rgb(52, 50, 12)" shape-rendering="crispEdges"/>
<rect x="208.28" y="525.80" width="9.48" height="7.10" fill="rgb(95, 92, 20)" shape-rendering="crispEdges"/>
<rect x="217.45" y="525.80" width="9.48" height="7.10" fill="rgb(95, 92, 20)" shape-rendering="crispEdges"/>
<rect x="226.62" y="525.80" width="9.48" height="7.10" fill="rgb(10, 42, 225)" shape-rendering="crispEdges"/>
<rect x="199.10" y="534.40" width="9.48" height="7.69" fill="rgb(95, 92, 20)" shape-rendering="crispEdges"/>
<rect x="208.28" y="534.40" width="9.48" height="7.69" fill="rgb(95, 92, 20)" shape-rendering="crispEdges"/>
<rect x="217.45" y="534.40" width="9.48" height="7.69" fill="rgb(95, 92, 20)" shape-rendering="crispEdges"/>
<rect x="226.62" y="534.40" width="9.48" height="7.69" fill="rgb(10, 42, 225)" shape-rendering="crispEdges"/>
<rect x="199.10" y="541.79" width="9.48" height="7.69" fill="rgb(52, 50, 12)" shape-rendering="crispEdges"/>
<rect x="208.28" y="541.79" width="9.48" height="7.69" fill="rgb(52, 50, 12)" shape-rendering="crispEdges"/>
<rect x="217.45" y="541.79" width="9.48" height="7.69" fill="rgb(52, 50, 12)" shape-rendering="crispEdges"/>
<rect x="226.62" y="541.79" width="9.48" height="7.69" fill="rgb(10, 42, 225)" shape-rendering="crispEdges"/>
<rect x="199.10" y="549.18" width="9.48" height="7.69" fill="rgb(12, 12, 14)" shape-rendering="crispEdges"/>
<rect x="208.28" y="549.18" width="9.48" height="7.69" fill="rgb(52, 50, 12)" shape-rendering="crispEdges"/>
<rect x="217.45" y="549.18" width="9.48" height="7.69" fill="rgb(12, 12, 14)" shape-rendering="crispEdges"/>
<rect x="226.62" y="549.18" width="9.48" height="7.69" fill="rgb(10, 42, 225)" shape-rendering="crispEdges"/>
<rect x="199.10" y="556.58" width="9.48" height="7.69" fill="rgb(8, 10, 68)" shape-rendering="crispEdges"/>
<rect x="208.28" y="556.58" width="9.48" height="7.69" fill="rgb(8, 10, 68)" shape-rendering="crispEdges"/>
<rect x="217.45" y="556.58" width="9.48" height="7.69" fill="rgb(12, 12, 14)" shape-rendering="crispEdges"/>
<rect x="226.62" y="556.58" width="9.48" height="7.69" fill="rgb(12, 34, 192)" shape-rendering="crispEdges"/>
<rect x="199.10" y="563.97" width="9.48" height="7.69" fill="rgb(8, 10, 68)" shape-rendering="crispEdges"/>
<rect x="208.28" y="563.97" width="9.48" height="7.69" fill="rgb(8, 10, 68)" shape-rendering="crispEdges"/>
<rect x="217.45" y="563.97" width="9.48" height="7.69" fill="rgb(12, 12, 14)" shape-rendering="crispEdges"/>
<rect x="226.62" y="563.97" width="9.48" height="7.69" fill="rgb(12, 34, 192)" shape-rendering="crispEdges"/>
<rect x="199.10" y="571.36" width="9.48" height="7.69" fill="rgb(95, 92, 20)" shape-rendering="crispEdges"/>
<rect x="208.28" y="571.36" width="9.48" height="7.69" fill="rgb(52, 50, 12)" shape-rendering="crispEdges"/>
<rect x="217.45" y="571.36" width="9.48" height="7.69" fill="rgb(95, 92, 20)" shape-rendering="crispEdges"/>
<rect x="226.62" y="571.36" width="9.48" height="7.69" fill="rgb(12, 34, 192)" shape-rendering="crispEdges"/>
<rect x="199.10" y="578.75" width="9.48" height="7.69" fill="rgb(12, 25, 135)" shape-rendering="crispEdges"/>
<rect x="208.28" y="578.75" width="9.48" height="7.69" fill="rgb(8, 10, 68)" shape-rendering="crispEdges"/>
<rect x="217.45" y="578.75" width="9.48" height="7.69" fill="rgb(8, 10, 68)" shape-rendering="crispEdges"/>
<rect x="226.62" y="578.75" width="9.48" height="7.69" fill="rgb(12, 34, 192)" shape-rendering="crispEdges"/>
<rect x="199.10" y="586.15" width="9.48" height="7.69" fill="rgb(12, 25, 135)" shape-rendering="crispEdges"/>
<rect x="208.28" y="586.15" width="9.48" height="7.69" fill="rgb(12, 25, 135)" shape-rendering="crispEdges"/>
<rect x="217.45" y="586.15" width="9.48" height="7.69" fill="rgb(12, 25, 135)" shape-rendering="crispEdges"/>
<rect x="226.62" y="586.15" width="9.48" height="7.69" fill="rgb(10, 42, 225)" shape-rendering="crispEdges"/>
<rect x="199.10" y="593.54" width="9.48" height="7.69" fill="rgb(52, 50, 12)" shape-rendering="crispEdges"/>
<rect x="208.28" y="593.54" width="9.48" height="7.69" fill="rgb(8, 10, 68)" shape-rendering="crispEdges"/>
<rect x="217.45" y="593.54" width="9.48" height="7.69" fill="rgb(8, 10, 68)" shape-rendering="crispEdges"/>
<rect x="226.62" y="593.54" width="9.48" height="7.69" fill="rgb(8, 10, 68)" shape-rendering="crispEdges"/>
<rect x="199.10" y="600.93" width="9.48" height="7.69" fill="rgb(12, 12, 14)" shape-rendering="crispEdges"/>
<rect x="208.28" y="600.93" width="9.48" height="7.69" fill="rgb(12, 12, 14)" shape-rendering="crispEdges"/>
<rect x="217.45" y="600.93" width="9.48" height="7.69" fill="rgb(12, 12, 14)" shape-rendering="crispEdges"/>
<rect x="226.62" y="600.93" width="9.48" height="7.69" fill="rgb(10, 42, 225)" shape-rendering="crispEdges"/>
<rect x="199.10" y="608.32" width="9.48" height="7.69" fill="rgb(52, 50, 12)" shape-rendering="crispEdges"/>
<rect x="208.28" y="608.32" width="9.48" height="7.69" fill="rgb(95, 92, 20)" shape-rendering="crispEdges"/>
<rect x="217.45" y="608.32" width="9.48" height="7.69" fill="rgb(95, 92, 20)" shape-rendering="crispEdges"/>
<rect x="226.62" y="608.32" width="9.48" height="7.69" fill="rgb(10, 42, 225)" shape-rendering="crispEdges"/>
<rect x="199.10" y="615.72" width="9.48" height="7.69" fill="rgb(95, 92, 20)" shape-rendering="crispEdges"/>
<rect x="208.28" y="615.72" width="9.48" height="7.69" fill="rgb(52, 50, 12)" shape-rendering="crispEdges"/>
<rect x="217.45" y="615.72" width="9.48" height="7.69" fill="rgb(52, 50, 12)" shape-rendering="crispEdges"/>
<rect x="226.62" y="615.72" width="9.48" height="7.69" fill="rgb(10, 42, 225)" shape-rendering="crispEdges"/>
<rect x="199.10" y="623.11" width="9.48" height="7.69" fill="rgb(52, 50, 12)" shape-rendering="crispEdges"/>
<rect x="208.28" y="623.11" width="9.48" height="7.69" fill="rgb(52, 50, 12)" shape-rendering="crispEdges"/>
<rect x="217.45" y="623.11" width="9.48" height="7.69" fill="rgb(52, 50, 12)" shape-rendering="crispEdges"/>
<rect x="226.62" y="623.11" width="9.48" height="7.69" fill="rgb(12, 34, 192)" shape-rendering="crispEdges"/>
<text x="231.21" y="523.90" font-size="9.5" text-anchor="middle" fill="#222" stroke="#222" stroke-width="0.25" font-weight="normal" font-style="normal">+</text>
<rect x="237.80" y="525.80" width="9.75" height="7.10" fill="rgb(12, 12, 14)" shape-rendering="crispEdges"/>
<rect x="247.25" y="525.80" width="9.75" height="7.10" fill="rgb(12, 12, 14)" shape-rendering="crispEdges"/>
<rect x="256.70" y="525.80" width="9.75" height="7.10" fill="rgb(12, 12, 14)" shape-rendering="crispEdges"/>
<rect x="266.15" y="525.80" width="9.75" height="7.10" fill="rgb(12, 34, 192)" shape-rendering="crispEdges"/>
<rect x="275.60" y="525.80" width="9.75" height="7.10" fill="rgb(10, 42, 225)" shape-rendering="crispEdges"/>
<rect x="285.05" y="525.80" width="9.75" height="7.10" fill="rgb(12, 34, 192)" shape-rendering="crispEdges"/>
<rect x="237.80" y="534.40" width="9.75" height="7.69" fill="rgb(52, 50, 12)" shape-rendering="crispEdges"/>
<rect x="247.25" y="534.40" width="9.75" height="7.69" fill="rgb(52, 50, 12)" shape-rendering="crispEdges"/>
<rect x="256.70" y="534.40" width="9.75" height="7.69" fill="rgb(52, 50, 12)" shape-rendering="crispEdges"/>
<rect x="266.15" y="534.40" width="9.75" height="7.69" fill="rgb(10, 42, 225)" shape-rendering="crispEdges"/>
<rect x="275.60" y="534.40" width="9.75" height="7.69" fill="rgb(10, 42, 225)" shape-rendering="crispEdges"/>
<rect x="285.05" y="534.40" width="9.75" height="7.69" fill="rgb(10, 42, 225)" shape-rendering="crispEdges"/>
<rect x="237.80" y="541.79" width="9.75" height="7.69" fill="rgb(52, 50, 12)" shape-rendering="crispEdges"/>
<rect x="247.25" y="541.79" width="9.75" height="7.69" fill="rgb(12, 12, 14)" shape-rendering="crispEdges"/>
<rect x="256.70" y="541.79" width="9.75" height="7.69" fill="rgb(52, 50, 12)" shape-rendering="crispEdges"/>
<rect x="266.15" y="541.79" width="9.75" height="7.69" fill="rgb(10, 42, 225)" shape-rendering="crispEdges"/>
<rect x="275.60" y="541.79" width="9.75" height="7.69" fill="rgb(12, 34, 192)" shape-rendering="crispEdges"/>
<rect x="285.05" y="541.79" width="9.75" height="7.69" fill="rgb(12, 34, 192)" shape-rendering="crispEdges"/>
<rect x="237.80" y="549.18" width="9.75" height="7.69" fill="rgb(52, 50, 12)" shape-rendering="crispEdges"/>
<rect x="247.25" y="549.18" width="9.75" height="7.69" fill="rgb(12, 12, 14)" shape-rendering="crispEdges"/>
<rect x="256.70" y="549.18" width="9.75" height="7.69" fill="rgb(52, 50, 12)" shape-rendering="crispEdges"/>
<rect x="266.15" y="549.18" width="9.75" height="7.69" fill="rgb(12, 34, 192)" shape-rendering="crispEdges"/>
<rect x="275.60" y="549.18" width="9.75" height="7.69" fill="rgb(12, 25, 135)" shape-rendering="crispEdges"/>
<rect x="285.05" y="549.18" width="9.75" height="7.69" fill="rgb(12, 34, 192)" shape-rendering="crispEdges"/>
<rect x="237.80" y="556.58" width="9.75" height="7.69" fill="rgb(8, 10, 68)" shape-rendering="crispEdges"/>
<rect x="247.25" y="556.58" width="9.75" height="7.69" fill="rgb(8, 10, 68)" shape-rendering="crispEdges"/>
<rect x="256.70" y="556.58" width="9.75" height="7.69" fill="rgb(8, 10, 68)" shape-rendering="crispEdges"/>
<rect x="266.15" y="556.58" width="9.75" height="7.69" fill="rgb(12, 34, 192)" shape-rendering="crispEdges"/>
<rect x="275.60" y="556.58" width="9.75" height="7.69" fill="rgb(12, 34, 192)" shape-rendering="crispEdges"/>
<rect x="285.05" y="556.58" width="9.75" height="7.69" fill="rgb(12, 34, 192)" shape-rendering="crispEdges"/>
<rect x="237.80" y="563.97" width="9.75" height="7.69" fill="rgb(12, 12, 14)" shape-rendering="crispEdges"/>
<rect x="247.25" y="563.97" width="9.75" height="7.69" fill="rgb(12, 12, 14)" shape-rendering="crispEdges"/>
<rect x="256.70" y="563.97" width="9.75" height="7.69" fill="rgb(52, 50, 12)" shape-rendering="crispEdges"/>
<rect x="266.15" y="563.97" width="9.75" height="7.69" fill="rgb(12, 34, 192)" shape-rendering="crispEdges"/>
<rect x="275.60" y="563.97" width="9.75" height="7.69" fill="rgb(12, 34, 192)" shape-rendering="crispEdges"/>
<rect x="285.05" y="563.97" width="9.75" height="7.69" fill="rgb(12, 34, 192)" shape-rendering="crispEdges"/>
<rect x="237.80" y="571.36" width="9.75" height="7.69" fill="rgb(95, 92, 20)" shape-rendering="crispEdges"/>
<rect x="247.25" y="571.36" width="9.75" height="7.69" fill="rgb(52, 50, 12)" shape-rendering="crispEdges"/>
<rect x="256.70" y="571.36" width="9.75" height="7.69" fill="rgb(95, 92, 20)" shape-rendering="crispEdges"/>
<rect x="266.15" y="571.36" width="9.75" height="7.69" fill="rgb(10, 42, 225)" shape-rendering="crispEdges"/>
<rect x="275.60" y="571.36" width="9.75" height="7.69" fill="rgb(12, 34, 192)" shape-rendering="crispEdges"/>
<rect x="285.05" y="571.36" width="9.75" height="7.69" fill="rgb(12, 34, 192)" shape-rendering="crispEdges"/>
<rect x="237.80" y="578.75" width="9.75" height="7.69" fill="rgb(195, 190, 38)" shape-rendering="crispEdges"/>
<rect x="247.25" y="578.75" width="9.75" height="7.69" fill="rgb(95, 92, 20)" shape-rendering="crispEdges"/>
<rect x="256.70" y="578.75" width="9.75" height="7.69" fill="rgb(195, 190, 38)" shape-rendering="crispEdges"/>
<rect x="266.15" y="578.75" width="9.75" height="7.69" fill="rgb(12, 12, 14)" shape-rendering="crispEdges"/>
<rect x="275.60" y="578.75" width="9.75" height="7.69" fill="rgb(228, 224, 48)" shape-rendering="crispEdges"/>
<rect x="285.05" y="578.75" width="9.75" height="7.69" fill="rgb(95, 92, 20)" shape-rendering="crispEdges"/>
<rect x="237.80" y="586.15" width="9.75" height="7.69" fill="rgb(12, 12, 14)" shape-rendering="crispEdges"/>
<rect x="247.25" y="586.15" width="9.75" height="7.69" fill="rgb(12, 12, 14)" shape-rendering="crispEdges"/>
<rect x="256.70" y="586.15" width="9.75" height="7.69" fill="rgb(12, 12, 14)" shape-rendering="crispEdges"/>
<rect x="266.15" y="586.15" width="9.75" height="7.69" fill="rgb(8, 10, 68)" shape-rendering="crispEdges"/>
<rect x="275.60" y="586.15" width="9.75" height="7.69" fill="rgb(95, 92, 20)" shape-rendering="crispEdges"/>
<rect x="285.05" y="586.15" width="9.75" height="7.69" fill="rgb(95, 92, 20)" shape-rendering="crispEdges"/>
<rect x="237.80" y="593.54" width="9.75" height="7.69" fill="rgb(8, 10, 68)" shape-rendering="crispEdges"/>
<rect x="247.25" y="593.54" width="9.75" height="7.69" fill="rgb(8, 10, 68)" shape-rendering="crispEdges"/>
<rect x="256.70" y="593.54" width="9.75" height="7.69" fill="rgb(12, 25, 135)" shape-rendering="crispEdges"/>
<rect x="266.15" y="593.54" width="9.75" height="7.69" fill="rgb(10, 42, 225)" shape-rendering="crispEdges"/>
<rect x="275.60" y="593.54" width="9.75" height="7.69" fill="rgb(12, 34, 192)" shape-rendering="crispEdges"/>
<rect x="285.05" y="593.54" width="9.75" height="7.69" fill="rgb(12, 34, 192)" shape-rendering="crispEdges"/>
<rect x="237.80" y="600.93" width="9.75" height="7.69" fill="rgb(12, 12, 14)" shape-rendering="crispEdges"/>
<rect x="247.25" y="600.93" width="9.75" height="7.69" fill="rgb(8, 10, 68)" shape-rendering="crispEdges"/>
<rect x="256.70" y="600.93" width="9.75" height="7.69" fill="rgb(8, 10, 68)" shape-rendering="crispEdges"/>
<rect x="266.15" y="600.93" width="9.75" height="7.69" fill="rgb(10, 42, 225)" shape-rendering="crispEdges"/>
<rect x="275.60" y="600.93" width="9.75" height="7.69" fill="rgb(12, 34, 192)" shape-rendering="crispEdges"/>
<rect x="285.05" y="600.93" width="9.75" height="7.69" fill="rgb(12, 25, 135)" shape-rendering="crispEdges"/>
<rect x="237.80" y="608.32" width="9.75" height="7.69" fill="rgb(52, 50, 12)" shape-rendering="crispEdges"/>
<rect x="247.25" y="608.32" width="9.75" height="7.69" fill="rgb(52, 50, 12)" shape-rendering="crispEdges"/>
<rect x="256.70" y="608.32" width="9.75" height="7.69" fill="rgb(95, 92, 20)" shape-rendering="crispEdges"/>
<rect x="266.15" y="608.32" width="9.75" height="7.69" fill="rgb(12, 34, 192)" shape-rendering="crispEdges"/>
<rect x="275.60" y="608.32" width="9.75" height="7.69" fill="rgb(10, 42, 225)" shape-rendering="crispEdges"/>
<rect x="285.05" y="608.32" width="9.75" height="7.69" fill="rgb(12, 34, 192)" shape-rendering="crispEdges"/>
<rect x="237.80" y="615.72" width="9.75" height="7.69" fill="rgb(52, 50, 12)" shape-rendering="crispEdges"/>
<rect x="247.25" y="615.72" width="9.75" height="7.69" fill="rgb(12, 12, 14)" shape-rendering="crispEdges"/>
<rect x="256.70" y="615.72" width="9.75" height="7.69" fill="rgb(52, 50, 12)" shape-rendering="crispEdges"/>
<rect x="266.15" y="615.72" width="9.75" height="7.69" fill="rgb(12, 34, 192)" shape-rendering="crispEdges"/>
<rect x="275.60" y="615.72" width="9.75" height="7.69" fill="rgb(12, 34, 192)" shape-rendering="crispEdges"/>
<rect x="285.05" y="615.72" width="9.75" height="7.69" fill="rgb(12, 34, 192)" shape-rendering="crispEdges"/>
<rect x="237.80" y="623.11" width="9.75" height="7.69" fill="rgb(95, 92, 20)" shape-rendering="crispEdges"/>
<rect x="247.25" y="623.11" width="9.75" height="7.69" fill="rgb(95, 92, 20)" shape-rendering="crispEdges"/>
<rect x="256.70" y="623.11" width="9.75" height="7.69" fill="rgb(195, 190, 38)" shape-rendering="crispEdges"/>
<rect x="266.15" y="623.11" width="9.75" height="7.69" fill="rgb(10, 42, 225)" shape-rendering="crispEdges"/>
<rect x="275.60" y="623.11" width="9.75" height="7.69" fill="rgb(12, 12, 14)" shape-rendering="crispEdges"/>
<rect x="285.05" y="623.11" width="9.75" height="7.69" fill="rgb(12, 34, 192)" shape-rendering="crispEdges"/>
<text x="289.77" y="523.90" font-size="9.5" text-anchor="middle" fill="#222" stroke="#222" stroke-width="0.25" font-weight="normal" font-style="normal">+</text>
<text x="280.32" y="523.90" font-size="9.5" text-anchor="middle" fill="#222" stroke="#222" stroke-width="0.25" font-weight="normal" font-style="normal">+</text>
<text x="270.88" y="523.90" font-size="9.5" text-anchor="middle" fill="#222" stroke="#222" stroke-width="0.25" font-weight="normal" font-style="normal">+</text>
<text x="299.30" y="531.90" font-size="7.4" text-anchor="start" fill="#222" stroke="#222" stroke-width="0.25" font-weight="normal" font-style="italic">E2F1</text>
<text x="299.30" y="539.35" font-size="7.4" text-anchor="start" fill="#222" stroke="#222" stroke-width="0.25" font-weight="normal" font-style="italic">CHEK1</text>
<text x="299.30" y="546.80" font-size="7.4" text-anchor="start" fill="#222" stroke="#222" stroke-width="0.25" font-weight="normal" font-style="italic">Cyclin B2</text>
<text x="299.30" y="554.25" font-size="7.4" text-anchor="start" fill="#222" stroke="#222" stroke-width="0.25" font-weight="normal" font-style="italic">Cyclin B1</text>
<text x="299.30" y="561.70" font-size="7.4" text-anchor="start" fill="#222" stroke="#222" stroke-width="0.25" font-weight="normal" font-style="italic">CDC25C</text>
<text x="299.30" y="569.15" font-size="7.4" text-anchor="start" fill="#222" stroke="#222" stroke-width="0.25" font-weight="normal" font-style="italic">CDC20</text>
<text x="299.30" y="576.60" font-size="7.4" text-anchor="start" fill="#222" stroke="#222" stroke-width="0.25" font-weight="normal" font-style="italic">Cyclin E1</text>
<text x="299.30" y="584.05" font-size="7.4" text-anchor="start" fill="#222" stroke="#222" stroke-width="0.25" font-weight="normal" font-style="italic">Cyclin D1</text>
<text x="299.30" y="591.50" font-size="7.4" text-anchor="start" fill="#222" stroke="#222" stroke-width="0.25" font-weight="normal" font-style="italic">Cyclin D3</text>
<text x="299.30" y="598.95" font-size="7.4" text-anchor="start" fill="#222" stroke="#222" stroke-width="0.25" font-weight="normal" font-style="italic">CENPA</text>
<text x="299.30" y="606.40" font-size="7.4" text-anchor="start" fill="#222" stroke="#222" stroke-width="0.25" font-weight="normal" font-style="italic">CDK1</text>
<text x="299.30" y="613.85" font-size="7.4" text-anchor="start" fill="#222" stroke="#222" stroke-width="0.25" font-weight="normal" font-style="italic">WEE1</text>
<text x="299.30" y="621.30" font-size="7.4" text-anchor="start" fill="#222" stroke="#222" stroke-width="0.25" font-weight="normal" font-style="italic">CDC6</text>
<text x="299.30" y="628.75" font-size="7.4" text-anchor="start" fill="#222" stroke="#222" stroke-width="0.25" font-weight="normal" font-style="italic">CDC27</text>
<text x="444.30" y="473.20" font-size="10.8" text-anchor="middle" fill="#222" stroke="#222" stroke-width="0.25" font-weight="normal" font-style="italic">E2F1</text>
<line x1="377.50" y1="479.90" x2="377.50" y2="614.30" stroke="#111111" stroke-width="1.5"/>
<line x1="373.50" y1="502.20" x2="377.50" y2="502.20" stroke="#111111" stroke-width="1.5"/>
<text x="370.30" y="505.20" font-size="9.6" text-anchor="end" fill="#262626" stroke="#262626" stroke-width="0.25" font-weight="normal" font-style="normal" textLength="13.35" lengthAdjust="spacingAndGlyphs">9.6</text>
<line x1="373.50" y1="537.70" x2="377.50" y2="537.70" stroke="#111111" stroke-width="1.5"/>
<text x="370.30" y="540.70" font-size="9.6" text-anchor="end" fill="#262626" stroke="#262626" stroke-width="0.25" font-weight="normal" font-style="normal" textLength="13.35" lengthAdjust="spacingAndGlyphs">9.2</text>
<line x1="373.50" y1="573.10" x2="377.50" y2="573.10" stroke="#111111" stroke-width="1.5"/>
<text x="370.30" y="576.10" font-size="9.6" text-anchor="end" fill="#262626" stroke="#262626" stroke-width="0.25" font-weight="normal" font-style="normal" textLength="13.35" lengthAdjust="spacingAndGlyphs">8.8</text>
<line x1="373.50" y1="608.60" x2="377.50" y2="608.60" stroke="#111111" stroke-width="1.5"/>
<text x="370.30" y="611.60" font-size="9.6" text-anchor="end" fill="#262626" stroke="#262626" stroke-width="0.25" font-weight="normal" font-style="normal" textLength="13.35" lengthAdjust="spacingAndGlyphs">8.4</text>
<line x1="376.75" y1="613.60" x2="511.50" y2="613.60" stroke="#111111" stroke-width="1.5"/>
<line x1="402.50" y1="613.60" x2="402.50" y2="617.40" stroke="#111111" stroke-width="1.5"/>
<line x1="444.70" y1="613.60" x2="444.70" y2="617.40" stroke="#111111" stroke-width="1.5"/>
<line x1="486.30" y1="613.60" x2="486.30" y2="617.40" stroke="#111111" stroke-width="1.5"/>
<line x1="402.50" y1="504.30" x2="402.50" y2="533.10" stroke="#111111" stroke-width="1.3"/>
<line x1="402.50" y1="562.60" x2="402.50" y2="593.80" stroke="#111111" stroke-width="1.3"/>
<rect x="386.50" y="533.10" width="32.00" height="29.50" fill="#aa0030"/>
<line x1="386.50" y1="540.80" x2="418.50" y2="540.80" stroke="#111" stroke-width="2.2"/>
<line x1="444.65" y1="506.70" x2="444.65" y2="536.90" stroke="#111111" stroke-width="1.3"/>
<line x1="444.65" y1="562.50" x2="444.65" y2="570.80" stroke="#111111" stroke-width="1.3"/>
<rect x="428.70" y="536.90" width="31.90" height="25.60" fill="#2d4b7c"/>
<line x1="428.70" y1="549.60" x2="460.60" y2="549.60" stroke="#111" stroke-width="2.2"/>
<line x1="486.90" y1="521.20" x2="486.90" y2="558.10" stroke="#111111" stroke-width="1.3"/>
<line x1="486.90" y1="598.50" x2="486.90" y2="608.40" stroke="#111111" stroke-width="1.3"/>
<rect x="471.00" y="558.10" width="31.80" height="40.40" fill="#68a744"/>
<line x1="471.00" y1="585.60" x2="502.80" y2="585.60" stroke="#111" stroke-width="2.2"/>
<rect x="401.50" y="485.60" width="1.80" height="1.40" fill="#aa0030"/>
<rect x="401.50" y="488.00" width="1.80" height="1.40" fill="#aa0030"/>
<circle cx="444.80" cy="603.20" r="1.1" fill="#111111"/>
<circle cx="444.80" cy="607.40" r="1.1" fill="#111111"/>
<circle cx="482.40" cy="516.10" r="1.25" fill="#111111"/>
<circle cx="486.50" cy="516.10" r="1.25" fill="#111111"/>
<circle cx="490.60" cy="516.10" r="1.25" fill="#111111"/>
<text x="402.30" y="629.80" font-size="9.3" text-anchor="middle" fill="#262626" stroke="#262626" stroke-width="0.25" font-weight="normal" font-style="normal">ND</text>
<text x="444.80" y="629.80" font-size="9.3" text-anchor="middle" fill="#262626" stroke="#262626" stroke-width="0.25" font-weight="normal" font-style="normal">8hrs</text>
<text x="486.50" y="629.80" font-size="9.3" text-anchor="middle" fill="#262626" stroke="#262626" stroke-width="0.25" font-weight="normal" font-style="normal">7d</text>
<g transform="translate(350.7,547.2) rotate(-90)"><text x="0" y="0" font-size="11.8" fill="#262626" stroke="#262626" stroke-width="0.25" text-anchor="middle" textLength="85.6" lengthAdjust="spacingAndGlyphs">Log<tspan font-size="6.5" dy="2.5">2</tspan><tspan dy="-2.5"> RMA expression</tspan></text></g>
<line x1="67.40" y1="667.70" x2="67.40" y2="786.25" stroke="#111111" stroke-width="1.5"/>
<line x1="63.80" y1="785.50" x2="67.40" y2="785.50" stroke="#111111" stroke-width="1.5"/>
<text x="60.00" y="788.60" font-size="9" text-anchor="end" fill="#262626" stroke="#262626" stroke-width="0.25" font-weight="normal" font-style="normal" textLength="12.14" lengthAdjust="spacingAndGlyphs">0.0</text>
<line x1="63.80" y1="747.30" x2="67.40" y2="747.30" stroke="#111111" stroke-width="1.5"/>
<text x="60.00" y="750.40" font-size="9" text-anchor="end" fill="#262626" stroke="#262626" stroke-width="0.25" font-weight="normal" font-style="normal" textLength="12.14" lengthAdjust="spacingAndGlyphs">0.5</text>
<line x1="63.80" y1="709.10" x2="67.40" y2="709.10" stroke="#111111" stroke-width="1.5"/>
<text x="60.00" y="712.20" font-size="9" text-anchor="end" fill="#262626" stroke="#262626" stroke-width="0.25" font-weight="normal" font-style="normal" textLength="12.14" lengthAdjust="spacingAndGlyphs">1.0</text>
<line x1="63.80" y1="670.90" x2="67.40" y2="670.90" stroke="#111111" stroke-width="1.5"/>
<text x="60.00" y="674.00" font-size="9" text-anchor="end" fill="#262626" stroke="#262626" stroke-width="0.25" font-weight="normal" font-style="normal" textLength="12.14" lengthAdjust="spacingAndGlyphs">1.5</text>
<line x1="63.80" y1="785.50" x2="186.70" y2="785.50" stroke="#111111" stroke-width="1.5"/>
<line x1="87.00" y1="785.50" x2="87.00" y2="788.80" stroke="#111111" stroke-width="1.5"/>
<line x1="127.40" y1="785.50" x2="127.40" y2="788.80" stroke="#111111" stroke-width="1.5"/>
<line x1="166.50" y1="785.50" x2="166.50" y2="788.80" stroke="#111111" stroke-width="1.5"/>
<rect x="74.25" y="709.10" width="26.50" height="76.40" fill="#68a744"/>
<rect x="114.25" y="762.00" width="25.75" height="23.50" fill="#68a744"/>
<rect x="153.25" y="703.75" width="26.25" height="81.75" fill="#68a744"/>
<line x1="127.10" y1="762.00" x2="127.10" y2="760.50" stroke="#111111" stroke-width="1.3"/>
<line x1="122.30" y1="760.50" x2="131.90" y2="760.50" stroke="#111111" stroke-width="1.3"/>
<line x1="166.40" y1="703.75" x2="166.40" y2="700.50" stroke="#111111" stroke-width="1.3"/>
<line x1="159.60" y1="700.50" x2="173.00" y2="700.50" stroke="#111111" stroke-width="1.3"/>
<polyline points="83.7,697.2 83.7,689.7 121.2,689.7 121.2,697.2" fill="none" stroke="#111111" stroke-width="1.4"/>
<polyline points="123.1,697.2 123.1,689.7 162.5,689.7 162.5,697.2" fill="none" stroke="#111111" stroke-width="1.4"/>
<circle cx="99.15" cy="685.00" r="1.2" fill="#111111"/>
<circle cx="103.35" cy="685.00" r="1.2" fill="#111111"/>
<circle cx="138.40" cy="685.00" r="1.2" fill="#111111"/>
<circle cx="142.60" cy="685.00" r="1.2" fill="#111111"/>
<text x="80.20" y="800.70" font-size="9.3" text-anchor="start" fill="#262626" stroke="#262626" stroke-width="0.25" font-weight="normal" font-style="normal" textLength="14.3" lengthAdjust="spacingAndGlyphs">ND</text>
<text x="117.40" y="800.70" font-size="9.3" text-anchor="start" fill="#262626" stroke="#262626" stroke-width="0.25" font-weight="normal" font-style="normal" textLength="19.4" lengthAdjust="spacingAndGlyphs">DAS</text>
<text x="147.60" y="800.70" font-size="9.3" text-anchor="start" fill="#262626" stroke="#262626" stroke-width="0.25" font-weight="normal" font-style="normal" textLength="38.5" lengthAdjust="spacingAndGlyphs">DAS w/o</text>
<text x="114.40" y="662.80" font-size="10.8" text-anchor="start" fill="#222" stroke="#222" stroke-width="0.25" font-weight="normal" font-style="italic" textLength="24.6" lengthAdjust="spacingAndGlyphs">E2F1</text>
<line x1="214.60" y1="667.70" x2="214.60" y2="786.25" stroke="#111111" stroke-width="1.5"/>
<line x1="211.00" y1="785.50" x2="214.60" y2="785.50" stroke="#111111" stroke-width="1.5"/>
<text x="207.20" y="788.60" font-size="9" text-anchor="end" fill="#262626" stroke="#262626" stroke-width="0.25" font-weight="normal" font-style="normal" textLength="12.14" lengthAdjust="spacingAndGlyphs">0.0</text>
<line x1="211.00" y1="747.30" x2="214.60" y2="747.30" stroke="#111111" stroke-width="1.5"/>
<text x="207.20" y="750.40" font-size="9" text-anchor="end" fill="#262626" stroke="#262626" stroke-width="0.25" font-weight="normal" font-style="normal" textLength="12.14" lengthAdjust="spacingAndGlyphs">0.5</text>
<line x1="211.00" y1="709.10" x2="214.60" y2="709.10" stroke="#111111" stroke-width="1.5"/>
<text x="207.20" y="712.20" font-size="9" text-anchor="end" fill="#262626" stroke="#262626" stroke-width="0.25" font-weight="normal" font-style="normal" textLength="12.14" lengthAdjust="spacingAndGlyphs">1.0</text>
<line x1="211.00" y1="670.90" x2="214.60" y2="670.90" stroke="#111111" stroke-width="1.5"/>
<text x="207.20" y="674.00" font-size="9" text-anchor="end" fill="#262626" stroke="#262626" stroke-width="0.25" font-weight="normal" font-style="normal" textLength="12.14" lengthAdjust="spacingAndGlyphs">1.5</text>
<line x1="211.00" y1="785.50" x2="316.70" y2="785.50" stroke="#111111" stroke-width="1.5"/>
<line x1="232.00" y1="785.50" x2="232.00" y2="788.80" stroke="#111111" stroke-width="1.5"/>
<line x1="265.40" y1="785.50" x2="265.40" y2="788.80" stroke="#111111" stroke-width="1.5"/>
<line x1="299.60" y1="785.50" x2="299.60" y2="788.80" stroke="#111111" stroke-width="1.5"/>
<rect x="220.00" y="709.10" width="23.40" height="76.40" fill="#68a744"/>
<rect x="254.30" y="753.00" width="23.20" height="32.50" fill="#68a744"/>
<rect x="288.40" y="740.30" width="23.30" height="45.20" fill="#68a744"/>
<line x1="265.90" y1="753.00" x2="265.90" y2="749.60" stroke="#111111" stroke-width="1.3"/>
<line x1="260.80" y1="749.60" x2="271.90" y2="749.60" stroke="#111111" stroke-width="1.3"/>
<line x1="300.00" y1="740.30" x2="300.00" y2="735.70" stroke="#111111" stroke-width="1.3"/>
<line x1="294.30" y1="735.70" x2="305.40" y2="735.70" stroke="#111111" stroke-width="1.3"/>
<polyline points="236.7,692.7 236.7,685 274.6,685 274.6,692.7" fill="none" stroke="#111111" stroke-width="1.4"/>
<polyline points="276.2,692.7 276.2,685 315.2,685 315.2,692.7" fill="none" stroke="#111111" stroke-width="1.4"/>
<circle cx="252.50" cy="680.40" r="1.2" fill="#111111"/>
<circle cx="256.70" cy="680.40" r="1.2" fill="#111111"/>
<circle cx="291.40" cy="680.40" r="1.2" fill="#111111"/>
<circle cx="295.60" cy="680.40" r="1.2" fill="#111111"/>
<text x="225.00" y="800.70" font-size="9.3" text-anchor="start" fill="#262626" stroke="#262626" stroke-width="0.25" font-weight="normal" font-style="normal" textLength="13.9" lengthAdjust="spacingAndGlyphs">ND</text>
<text x="256.20" y="800.70" font-size="9.3" text-anchor="start" fill="#262626" stroke="#262626" stroke-width="0.25" font-weight="normal" font-style="normal" textLength="19.6" lengthAdjust="spacingAndGlyphs">DAS</text>
<text x="280.40" y="800.70" font-size="9.3" text-anchor="start" fill="#262626" stroke="#262626" stroke-width="0.25" font-weight="normal" font-style="normal" textLength="38.1" lengthAdjust="spacingAndGlyphs">DAS w/o</text>
<text x="250.80" y="662.80" font-size="10.8" text-anchor="start" fill="#222" stroke="#222" stroke-width="0.25" font-weight="normal" font-style="italic" textLength="30.2" lengthAdjust="spacingAndGlyphs">CDK1</text>
<g transform="translate(26.2,726.5) rotate(-90)"><text x="0" y="0" font-size="11.8" fill="#262626" stroke="#262626" stroke-width="0.25" text-anchor="middle" textLength="83.4" lengthAdjust="spacingAndGlyphs">Gene fold relative to</text></g>
<g transform="translate(40.3,726.5) rotate(-90)"><text x="0" y="0" font-size="11.8" fill="#262626" stroke="#262626" stroke-width="0.25" text-anchor="middle" textLength="25.8" lengthAdjust="spacingAndGlyphs">ND=1</text></g>
</svg>
</body></html>
